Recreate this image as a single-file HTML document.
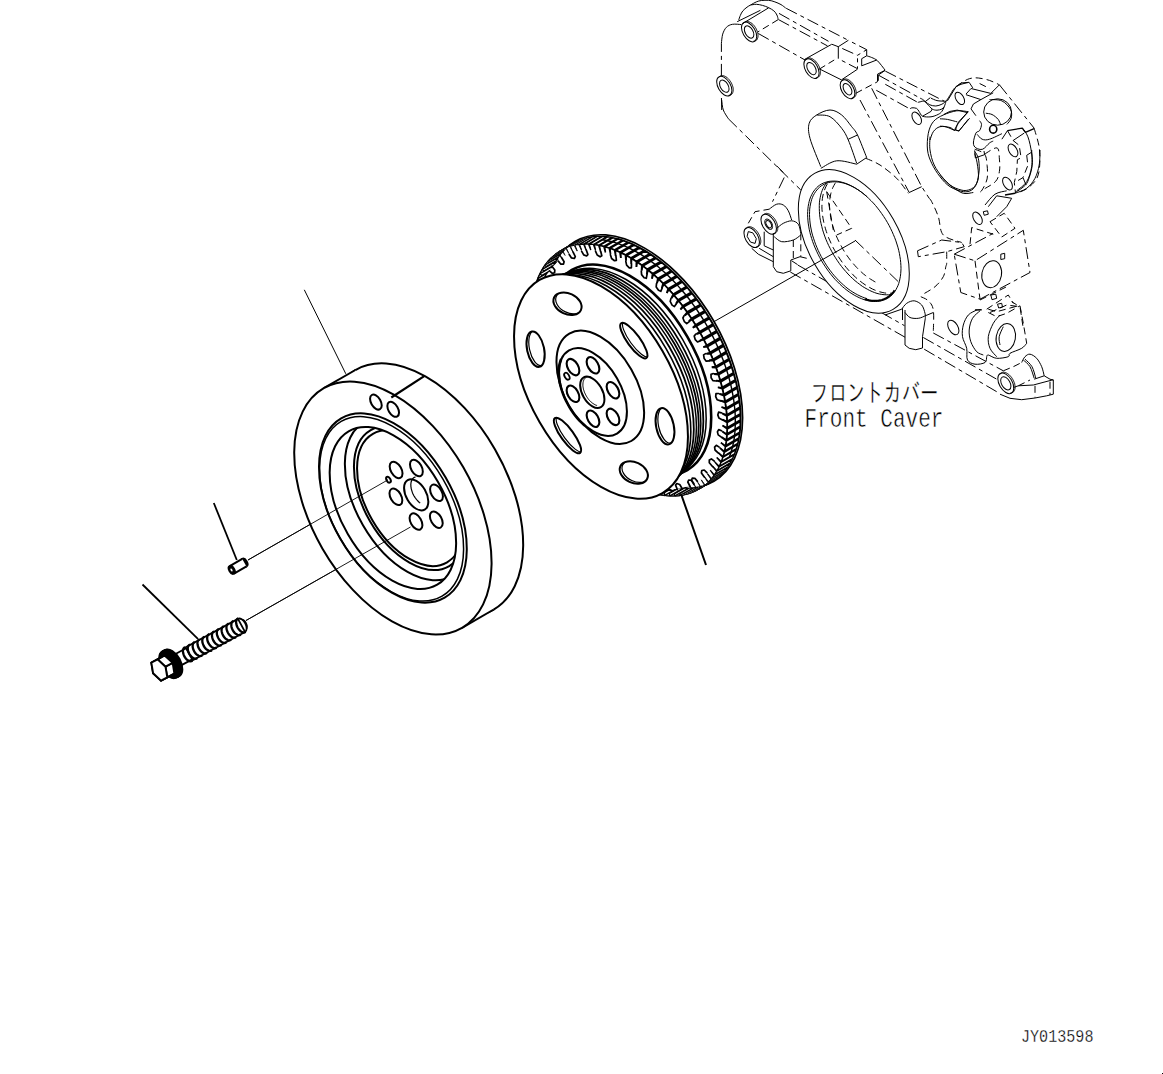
<!DOCTYPE html>
<html lang="ja"><head><meta charset="utf-8"><title>Front Cover</title>
<style>html,body{margin:0;padding:0;background:#fff;overflow:hidden}svg{display:block}text{font-family:"Liberation Mono","IPAGothic","Noto Sans CJK JP",monospace;fill:#000}</style></head><body>
<svg width="1163" height="1074" viewBox="0 0 1163 1074">
<rect width="1163" height="1074" fill="#fff"/>
<path d="M721.7,110.0 L721.4,96.0" fill="none" stroke="#000" stroke-width="1.0" stroke-linejoin="round" stroke-dasharray="12 4 4 4"/>
<path d="M721.4,75.9 L721.4,43.3" fill="none" stroke="#000" stroke-width="1.0" stroke-linejoin="round" stroke-dasharray="12 4 4 4"/>
<path d="M721.4,43.3 C721.6,41.8 721.9,36.7 722.7,34.1 C723.6,31.4 724.7,29.0 726.4,27.3 C728.0,25.7 730.0,24.7 732.5,24.3 C735.0,23.8 739.9,24.5 741.3,24.6" fill="none" stroke="#000" stroke-width="1.0" stroke-linejoin="round"/>
<path d="M738.7,20.1 C739.0,19.3 739.6,17.0 740.3,15.5 C741.0,13.9 741.7,12.2 742.9,10.8 C744.0,9.5 745.7,8.2 747.0,7.2 C748.3,6.2 749.1,5.8 750.6,5.0 C752.2,4.1 754.5,2.6 756.3,1.9 C758.1,1.1 759.4,0.8 761.4,0.5 C763.5,0.3 766.4,0.1 768.7,0.3 C770.9,0.5 772.8,1.1 774.9,1.9 C776.9,2.6 779.2,3.6 781.0,4.6 C782.9,5.7 784.9,7.5 785.7,8.0" fill="none" stroke="#000" stroke-width="1.0" stroke-linejoin="round"/>
<path d="M750.6,5.0 C751.5,4.9 754.3,4.3 756.3,4.3 C758.3,4.4 760.4,4.8 762.5,5.4 C764.5,5.9 766.8,6.8 768.7,7.7 C770.6,8.7 772.4,9.6 773.8,10.8 C775.2,12.0 776.2,13.5 776.9,15.0 C777.6,16.4 778.0,18.7 778.2,19.4" fill="none" stroke="#000" stroke-width="1.0" stroke-linejoin="round"/>
<path d="M737.2,21.7 L760.4,10.3" fill="none" stroke="#000" stroke-width="1.0" stroke-linejoin="round"/>
<path d="M742.7,23.5 L768.7,7.8" fill="none" stroke="#000" stroke-width="1.0" stroke-linejoin="round"/>
<path d="M778.2,19.6 L757.8,32.0" fill="none" stroke="#000" stroke-width="1.0" stroke-linejoin="round" stroke-dasharray="7 4"/>
<path d="M758.3,33.5 L804.8,59.9" fill="none" stroke="#000" stroke-width="1.0" stroke-linejoin="round" stroke-dasharray="12 4 4 4"/>
<path d="M786.2,8.3 L848.1,40.2" fill="none" stroke="#000" stroke-width="1.0" stroke-linejoin="round" stroke-dasharray="12 4 4 4"/>
<path d="M779.0,13.4 L828.5,41.3" fill="none" stroke="#000" stroke-width="1.0" stroke-linejoin="round" stroke-dasharray="12 4 4 4"/>
<path d="M778.5,19.6 L827.5,45.9" fill="none" stroke="#000" stroke-width="1.0" stroke-linejoin="round" stroke-dasharray="12 4 4 4"/>
<path d="M804.3,59.6 L825.9,47.5 L831.6,44.4" fill="none" stroke="#000" stroke-width="1.0" stroke-linejoin="round"/>
<ellipse cx="749.1" cy="32.0" rx="10.8" ry="6.2" transform="rotate(60.0 749.1 32.0)" fill="none" stroke="#000" stroke-width="1.0"/>
<path d="M753.6,41.1 L754.1,41.1 L754.6,41.0 L755.0,40.9 L755.4,40.8 L755.8,40.6 L756.2,40.4 L756.5,40.1 L756.8,39.8 L757.1,39.4 L757.3,39.0 L757.5,38.5 L757.7,38.0 L757.8,37.5 L757.9,37.0 L758.0,36.4 L758.0,35.8 L758.0,35.2 L758.0,34.6 L757.9,33.9 L757.8,33.2 L757.6,32.5 L757.4,31.9 L757.2,31.2 L756.9,30.5 L756.7,29.8 L756.3,29.1 L756.0,28.5 L755.6,27.8 L755.2,27.2 L754.8,26.6 L754.3,26.0 L753.9,25.4 L753.4,24.9 L752.9,24.3 L752.4,23.9 L751.9,23.4 L751.3,23.0 L750.8,22.7 L750.3,22.4 L749.7,22.1 L749.2,21.9 L748.7,21.7 L748.2,21.5 L747.7,21.4 L747.2,21.4 L746.7,21.4 L746.2,21.5 L745.8,21.6 L745.4,21.7 L745.0,21.9 L744.6,22.1 L744.3,22.4 L744.0,22.7 L743.7,23.1 L743.5,23.5" fill="none" stroke="#000" stroke-width="1.0"/>
<ellipse cx="749.1" cy="32.0" rx="6.7" ry="3.9" transform="rotate(60.0 749.1 32.0)" fill="none" stroke="#000" stroke-width="1.0"/>
<ellipse cx="724.3" cy="86.2" rx="10.8" ry="6.2" transform="rotate(60.0 724.3 86.2)" fill="none" stroke="#000" stroke-width="1.0"/>
<path d="M728.8,95.3 L729.3,95.3 L729.8,95.2 L730.2,95.1 L730.6,95.0 L731.0,94.8 L731.4,94.6 L731.7,94.3 L732.0,94.0 L732.3,93.6 L732.5,93.2 L732.7,92.7 L732.9,92.2 L733.0,91.7 L733.1,91.2 L733.2,90.6 L733.2,90.0 L733.2,89.4 L733.2,88.8 L733.1,88.1 L733.0,87.4 L732.8,86.7 L732.6,86.1 L732.4,85.4 L732.1,84.7 L731.9,84.0 L731.5,83.3 L731.2,82.7 L730.8,82.0 L730.4,81.4 L730.0,80.8 L729.5,80.2 L729.1,79.6 L728.6,79.1 L728.1,78.5 L727.6,78.1 L727.1,77.6 L726.5,77.2 L726.0,76.9 L725.5,76.6 L724.9,76.3 L724.4,76.1 L723.9,75.9 L723.4,75.7 L722.9,75.6 L722.4,75.6 L721.9,75.6 L721.4,75.7 L721.0,75.8 L720.6,75.9 L720.2,76.1 L719.8,76.3 L719.5,76.6 L719.2,76.9 L718.9,77.3 L718.7,77.7" fill="none" stroke="#000" stroke-width="1.0"/>
<ellipse cx="724.3" cy="86.2" rx="6.7" ry="3.9" transform="rotate(60.0 724.3 86.2)" fill="none" stroke="#000" stroke-width="1.0"/>
<ellipse cx="811.5" cy="68.6" rx="10.8" ry="6.2" transform="rotate(60.0 811.5 68.6)" fill="none" stroke="#000" stroke-width="1.0"/>
<path d="M816.0,77.7 L816.5,77.7 L817.0,77.6 L817.4,77.5 L817.8,77.4 L818.2,77.2 L818.6,77.0 L818.9,76.7 L819.2,76.4 L819.5,76.0 L819.7,75.6 L819.9,75.1 L820.1,74.6 L820.2,74.1 L820.3,73.6 L820.4,73.0 L820.4,72.4 L820.4,71.8 L820.4,71.2 L820.3,70.5 L820.2,69.8 L820.0,69.1 L819.8,68.5 L819.6,67.8 L819.3,67.1 L819.1,66.4 L818.7,65.7 L818.4,65.1 L818.0,64.4 L817.6,63.8 L817.2,63.2 L816.7,62.6 L816.3,62.0 L815.8,61.5 L815.3,60.9 L814.8,60.5 L814.3,60.0 L813.7,59.6 L813.2,59.3 L812.7,59.0 L812.1,58.7 L811.6,58.5 L811.1,58.3 L810.6,58.1 L810.1,58.0 L809.6,58.0 L809.1,58.0 L808.6,58.1 L808.2,58.2 L807.8,58.3 L807.4,58.5 L807.0,58.7 L806.7,59.0 L806.4,59.3 L806.1,59.7 L805.9,60.1" fill="none" stroke="#000" stroke-width="1.0"/>
<ellipse cx="811.5" cy="68.6" rx="6.7" ry="3.9" transform="rotate(60.0 811.5 68.6)" fill="none" stroke="#000" stroke-width="1.0"/>
<ellipse cx="847.5" cy="89.2" rx="10.4" ry="6.0" transform="rotate(60.0 847.5 89.2)" fill="none" stroke="#000" stroke-width="1.0"/>
<path d="M851.9,97.9 L852.4,97.9 L852.8,97.9 L853.2,97.8 L853.6,97.6 L854.0,97.5 L854.3,97.2 L854.7,97.0 L855.0,96.6 L855.2,96.3 L855.5,95.9 L855.7,95.5 L855.8,95.0 L856.0,94.5 L856.1,94.0 L856.1,93.4 L856.1,92.8 L856.1,92.2 L856.1,91.6 L856.0,91.0 L855.9,90.4 L855.7,89.7 L855.6,89.0 L855.3,88.4 L855.1,87.7 L854.8,87.1 L854.5,86.4 L854.2,85.8 L853.8,85.1 L853.4,84.5 L853.0,83.9 L852.6,83.4 L852.1,82.8 L851.7,82.3 L851.2,81.8 L850.7,81.3 L850.2,80.9 L849.7,80.5 L849.2,80.2 L848.7,79.9 L848.2,79.6 L847.6,79.4 L847.1,79.2 L846.6,79.1 L846.2,79.0 L845.7,79.0 L845.2,79.0 L844.8,79.0 L844.4,79.1 L844.0,79.3 L843.6,79.4 L843.2,79.7 L842.9,79.9 L842.6,80.3 L842.4,80.6 L842.1,81.0" fill="none" stroke="#000" stroke-width="1.0"/>
<ellipse cx="847.5" cy="89.2" rx="6.3" ry="3.6" transform="rotate(60.0 847.5 89.2)" fill="none" stroke="#000" stroke-width="1.0"/>
<path d="M721.7,100.0 C721.9,101.7 722.2,106.9 723.3,110.0 C724.4,113.1 727.5,117.2 728.3,118.7" fill="none" stroke="#000" stroke-width="1.0" stroke-linejoin="round"/>
<path d="M728.3,118.7 L800.8,190.0" fill="none" stroke="#000" stroke-width="1.0" stroke-linejoin="round" stroke-dasharray="12 4 4 4"/>
<path d="M776.7,165.8 L783.3,172.5" fill="none" stroke="#000" stroke-width="1.0" stroke-linejoin="round"/>
<path d="M819.2,69.2 L834.2,60.0" fill="none" stroke="#000" stroke-width="1.0" stroke-linejoin="round" stroke-dasharray="7 4"/>
<path d="M820.0,69.2 L841.7,80.0" fill="none" stroke="#000" stroke-width="1.0" stroke-linejoin="round"/>
<path d="M831.7,44.2 L838.3,46.7" fill="none" stroke="#000" stroke-width="1.0" stroke-linejoin="round"/>
<path d="M838.3,46.7 L848.3,40.3 L866.7,49.7 L857.5,55.3 L838.3,46.7" fill="none" stroke="#000" stroke-width="1.0" stroke-linejoin="round" stroke-dasharray="12 4 4 4"/>
<path d="M838.3,46.7 L838.3,58.7 L857.5,68.7 L857.5,55.3" fill="none" stroke="#000" stroke-width="1.0" stroke-linejoin="round" stroke-dasharray="12 4 4 4"/>
<path d="M866.7,49.7 L866.7,55.8 L861.7,58.7 L861.7,65.8" fill="none" stroke="#000" stroke-width="1.0" stroke-linejoin="round"/>
<path d="M866.7,55.8 C867.5,56.1 869.9,56.7 871.7,57.5 C873.5,58.3 875.3,58.8 877.5,60.8 C879.7,62.9 883.8,68.5 885.0,70.0" fill="none" stroke="#000" stroke-width="1.0" stroke-linejoin="round"/>
<path d="M861.7,65.8 L876.7,60.0" fill="none" stroke="#000" stroke-width="1.0" stroke-linejoin="round"/>
<path d="M841.7,79.7 L857.5,69.2" fill="none" stroke="#000" stroke-width="1.0" stroke-linejoin="round"/>
<path d="M855.8,93.3 L877.5,81.7" fill="none" stroke="#000" stroke-width="1.0" stroke-linejoin="round" stroke-dasharray="7 4"/>
<path d="M877.5,81.7 L877.5,74.2 L885.0,70.3" fill="none" stroke="#000" stroke-width="1.0" stroke-linejoin="round"/>
<path d="M820.8,166.7 C819.0,161.9 811.9,145.6 810.0,138.3 C808.1,131.1 808.1,127.2 809.2,123.3 C810.3,119.4 813.2,117.2 816.7,115.0 C820.1,112.8 825.8,110.0 830.0,110.0 C834.2,110.0 838.1,112.2 841.7,115.0 C845.3,117.8 849.0,123.3 851.7,126.7 C854.3,130.0 855.0,129.9 857.5,135.0 C860.0,140.1 865.1,153.8 866.7,157.5" fill="none" stroke="#000" stroke-width="1.0" stroke-linejoin="round"/>
<path d="M816.7,115.0 C818.9,115.3 825.8,114.4 830.0,116.7 C834.2,118.9 838.6,124.4 841.7,128.3 C844.7,132.2 845.8,134.2 848.3,140.0 C850.8,145.8 855.3,159.4 856.7,163.3" fill="none" stroke="#000" stroke-width="1.0" stroke-linejoin="round"/>
<path d="M848.3,139.2 L857.5,135.0" fill="none" stroke="#000" stroke-width="1.0" stroke-linejoin="round"/>
<path d="M866.7,157.5 L856.7,164.2" fill="none" stroke="#000" stroke-width="1.0" stroke-linejoin="round"/>
<path d="M820.8,168.3 C823.5,167.1 830.7,161.5 836.7,160.8 C842.6,160.1 853.3,163.6 856.7,164.2" fill="none" stroke="#000" stroke-width="1.0" stroke-linejoin="round"/>
<path d="M885.3,71.1 L944.3,101.2 L946.1,101.2" fill="none" stroke="#000" stroke-width="1.0" stroke-linejoin="round" stroke-dasharray="12 4 4 4"/>
<path d="M946.1,101.2 C946.7,100.3 948.5,97.7 949.7,95.7 C950.9,93.8 952.2,91.2 953.3,89.7 C954.4,88.2 955.0,87.6 956.3,86.7 C957.6,85.8 959.1,85.0 961.1,84.3 C963.1,83.6 967.1,82.8 968.3,82.5" fill="none" stroke="#000" stroke-width="1.0" stroke-linejoin="round"/>
<path d="M878.7,75.3 L920.2,98.2" fill="none" stroke="#000" stroke-width="1.0" stroke-linejoin="round" stroke-dasharray="12 4 4 4"/>
<path d="M920.2,98.2 C920.6,98.4 921.7,98.8 922.6,99.4 C923.5,100.0 924.4,100.9 925.6,101.8 C926.8,102.7 928.1,104.1 929.8,104.8 C931.5,105.5 933.8,106.1 935.8,106.0 C937.8,105.9 940.2,105.0 941.9,104.2 C943.6,103.4 945.4,101.7 946.1,101.2" fill="none" stroke="#000" stroke-width="1.0" stroke-linejoin="round"/>
<path d="M885.3,84.3 L917.8,102.4" fill="none" stroke="#000" stroke-width="1.0" stroke-linejoin="round" stroke-dasharray="12 4 4 4"/>
<path d="M917.8,102.4 C918.2,102.3 919.2,102.0 920.2,101.8 C921.2,101.6 922.6,100.8 923.8,101.2 C925.0,101.6 926.0,102.9 927.4,104.2 C928.8,105.5 930.6,108.0 932.2,109.0 C933.8,110.0 935.4,110.2 937.0,110.2 C938.6,110.2 940.7,109.6 941.9,109.0 C943.1,108.4 943.9,107.0 944.3,106.6" fill="none" stroke="#000" stroke-width="1.0" stroke-linejoin="round"/>
<path d="M876.3,90.3 L910.0,109.0" fill="none" stroke="#000" stroke-width="1.0" stroke-linejoin="round" stroke-dasharray="12 4 4 4"/>
<path d="M910.0,109.0 C910.3,108.8 910.7,107.9 911.8,107.8 C912.9,107.7 915.4,107.8 916.6,108.4 C917.8,109.0 918.0,110.1 919.0,111.4 C920.0,112.7 920.6,115.3 922.6,116.2 C924.6,117.1 928.4,117.1 931.0,116.8 C933.6,116.5 936.4,115.3 938.2,114.4 C940.1,113.5 940.9,112.7 941.9,111.4 C942.9,110.1 943.6,108.3 944.3,106.6 C945.0,104.9 945.8,102.1 946.1,101.2" fill="none" stroke="#000" stroke-width="1.0" stroke-linejoin="round"/>
<path d="M931.0,98.2 C932.0,98.6 934.8,100.1 937.0,100.6 C939.3,101.1 943.1,101.1 944.3,101.2" fill="none" stroke="#000" stroke-width="1.0" stroke-linejoin="round"/>
<path d="M922.6,116.2 L931.0,111.4 L932.2,109.0" fill="none" stroke="#000" stroke-width="1.0" stroke-linejoin="round"/>
<path d="M925.0,101.8 L930.4,97.6" fill="none" stroke="#000" stroke-width="1.0" stroke-linejoin="round"/>
<path d="M878.3,80.8 L878.3,75.0 L885.0,70.5" fill="none" stroke="#000" stroke-width="1.0" stroke-linejoin="round"/>
<ellipse cx="916.7" cy="118.3" rx="6.8" ry="3.9" transform="rotate(60.0 916.7 118.3)" fill="none" stroke="#000" stroke-width="1.0"/>
<path d="M860.0,100.0 L909.2,192.5" fill="none" stroke="#000" stroke-width="1.0" stroke-linejoin="round" stroke-dasharray="12 4 4 4"/>
<path d="M871.7,88.3 L921.7,186.7 L929.2,198.3" fill="none" stroke="#000" stroke-width="1.0" stroke-linejoin="round" stroke-dasharray="12 4 4 4"/>
<path d="M909.2,192.5 L921.7,186.7" fill="none" stroke="#000" stroke-width="1.0" stroke-linejoin="round"/>
<path d="M865.8,158.3 C868.2,159.4 874.9,161.7 880.0,165.0 C885.1,168.3 891.9,173.6 896.7,178.3 C901.4,183.1 906.4,190.8 908.3,193.3" fill="none" stroke="#000" stroke-width="1.0" stroke-linejoin="round" stroke-dasharray="7 4"/>
<path d="M968.3,111.7 C966.4,111.5 960.8,110.3 956.7,110.8 C952.5,111.4 947.2,113.2 943.3,115.0 C939.4,116.8 935.8,118.6 933.3,121.7 C930.8,124.7 929.3,128.6 928.3,133.3 C927.4,138.1 926.9,145.0 927.5,150.0 C928.1,155.0 929.6,158.9 931.7,163.3 C933.8,167.8 936.9,172.8 940.0,176.7 C943.1,180.6 946.1,184.2 950.0,186.7 C953.9,189.2 959.7,191.1 963.3,191.7 C966.9,192.2 969.4,191.4 971.7,190.0 C973.9,188.6 975.4,186.7 976.7,183.3 C977.9,180.0 978.9,174.2 979.2,170.0 C979.4,165.8 979.0,161.4 978.3,158.3 C977.6,155.3 975.6,152.8 975.0,151.7" fill="none" stroke="#000" stroke-width="1.0" stroke-linejoin="round"/>
<path d="M930.0,136.7 C930.0,138.9 929.3,145.3 930.0,150.0 C930.7,154.7 931.9,160.3 934.2,165.0 C936.4,169.7 940.1,174.6 943.3,178.3 C946.5,182.1 950.0,185.0 953.3,187.5 C956.7,190.0 960.0,192.5 963.3,193.3 C966.7,194.2 971.7,192.6 973.3,192.5" fill="none" stroke="#000" stroke-width="1.0" stroke-linejoin="round"/>
<path d="M968.3,111.7 C966.7,113.6 960.6,120.3 958.3,123.3 C956.1,126.4 956.4,129.3 955.0,130.0 C953.6,130.7 952.5,128.1 950.0,127.5 C947.5,126.9 942.8,126.0 940.0,126.7 C937.2,127.4 935.0,129.4 933.3,131.7 C931.7,133.9 930.6,138.6 930.0,140.0" fill="none" stroke="#000" stroke-width="1.0" stroke-linejoin="round"/>
<path d="M955.0,130.0 L959.2,130.8 L968.3,119.2" fill="none" stroke="#000" stroke-width="1.0" stroke-linejoin="round"/>
<path d="M956.1,86.6 C957.1,85.9 960.0,83.6 962.3,82.3 C964.6,80.9 967.0,79.3 969.7,78.6 C972.4,77.9 975.1,77.6 978.4,78.0 C981.7,78.3 986.0,79.3 989.5,80.4 C993.0,81.6 997.8,84.0 999.4,84.8" fill="none" stroke="#000" stroke-width="1.0" stroke-linejoin="round" stroke-dasharray="7 4"/>
<path d="M999.4,84.8 L1034.1,128.1" fill="none" stroke="#000" stroke-width="1.0" stroke-linejoin="round" stroke-dasharray="12 4 4 4"/>
<path d="M1034.1,128.1 C1034.9,131.2 1038.1,140.5 1039.1,146.7 C1040.0,152.9 1040.1,159.9 1039.7,165.3 C1039.3,170.6 1038.7,174.9 1036.6,178.9 C1034.4,182.8 1030.0,186.4 1026.7,188.8 C1023.4,191.1 1018.4,192.3 1016.8,193.0" fill="none" stroke="#000" stroke-width="1.0" stroke-linejoin="round" stroke-dasharray="7 4"/>
<ellipse cx="959.8" cy="98.4" rx="6.8" ry="3.9" transform="rotate(60.0 959.8 98.4)" fill="none" stroke="#000" stroke-width="1.0"/>
<path d="M966.0,94.1 L971.0,88.5 L990.8,93.4 L999.4,84.8" fill="none" stroke="#000" stroke-width="1.0" stroke-linejoin="round"/>
<path d="M966.0,94.7 L980.9,99.6 L993.2,92.8" fill="none" stroke="#000" stroke-width="1.0" stroke-linejoin="round"/>
<path d="M956.1,86.6 L961.7,82.9 L969.1,82.3 L972.8,87.9" fill="none" stroke="#000" stroke-width="1.0" stroke-linejoin="round"/>
<path d="M979.6,83.5 L989.5,88.5" fill="none" stroke="#000" stroke-width="1.0" stroke-linejoin="round" stroke-dasharray="7 4"/>
<path d="M947.4,100.9 L956.1,86.6" fill="none" stroke="#000" stroke-width="1.0" stroke-linejoin="round"/>
<path d="M971.0,108.9 L973.4,104.0 L980.9,99.6" fill="none" stroke="#000" stroke-width="1.0" stroke-linejoin="round"/>
<path d="M971.0,108.9 L975.9,115.7" fill="none" stroke="#000" stroke-width="1.0" stroke-linejoin="round"/>
<path d="M979.6,120.7 C979.9,121.3 981.5,122.7 981.5,124.4 C981.5,126.0 980.6,129.1 979.6,130.6 C978.7,132.0 976.9,131.0 975.9,133.1 C974.9,135.1 973.4,140.5 973.4,143.0 C973.4,145.4 974.4,146.9 975.9,147.9 C977.5,148.9 980.4,150.0 982.7,149.2 C985.0,148.3 987.8,144.3 989.5,143.0 C991.3,141.6 992.6,141.4 993.2,141.1" fill="none" stroke="#000" stroke-width="1.0" stroke-linejoin="round"/>
<path d="M977.1,134.3 C978.0,135.1 980.0,138.4 982.1,139.2 C984.2,140.1 986.2,140.2 989.5,139.2 C992.8,138.3 999.8,134.6 1001.9,133.7" fill="none" stroke="#000" stroke-width="1.0" stroke-linejoin="round"/>
<path d="M974.7,150.4 L975.3,157.8 L984.6,154.7 L984.0,151.0" fill="none" stroke="#000" stroke-width="1.0" stroke-linejoin="round"/>
<ellipse cx="997.6" cy="112.0" rx="13.9" ry="13.2" transform="rotate(0.0 997.6 112.0)" fill="none" stroke="#000" stroke-width="1.0"/>
<path d="M989.5,99.6 C991.6,99.8 998.4,99.2 1001.9,100.9 C1005.4,102.5 1009.0,106.6 1010.6,109.5 C1012.1,112.4 1011.8,115.7 1011.2,118.2 C1010.6,120.7 1007.6,123.4 1006.9,124.4" fill="none" stroke="#000" stroke-width="1.0"/>
<path d="M985.8,113.2 C986.8,113.5 989.9,113.5 992.0,114.5 C994.1,115.5 996.8,117.7 998.2,119.4 C999.6,121.2 1000.3,124.1 1000.7,125.0" fill="none" stroke="#000" stroke-width="1.0" stroke-linejoin="round"/>
<ellipse cx="993.2" cy="129.2" rx="3.6" ry="3.9" transform="rotate(0.0 993.2 129.2)" fill="none" stroke="#000" stroke-width="1.6"/>
<path d="M943.7,114.5 L949.9,111.4 L957.3,110.1 L967.2,112.6 L958.6,121.9 L954.9,129.3 L958.6,131.2 L969.7,118.2" fill="none" stroke="#000" stroke-width="1.0" stroke-linejoin="round"/>
<path d="M940.0,118.8 C941.2,118.9 944.5,118.9 947.4,119.4 C950.3,120.0 955.7,121.5 957.3,121.9" fill="none" stroke="#000" stroke-width="1.0" stroke-linejoin="round"/>
<path d="M940.0,126.2 C941.0,126.3 943.7,126.1 946.2,126.9 C948.7,127.6 953.4,130.0 954.9,130.6" fill="none" stroke="#000" stroke-width="1.0" stroke-linejoin="round"/>
<path d="M1007.5,130.6 L1022.3,128.1 L1025.4,132.4 L1034.1,128.7" fill="none" stroke="#000" stroke-width="1.3" stroke-linejoin="round"/>
<path d="M1007.5,130.6 L1001.9,139.2" fill="none" stroke="#000" stroke-width="1.0" stroke-linejoin="round"/>
<path d="M1007.5,130.6 L1013.1,140.5 L1019.2,145.4 L1021.1,157.8 L1017.4,159.7 L1016.8,171.4 L1014.3,182.6 L1015.5,193.0" fill="none" stroke="#000" stroke-width="1.0" stroke-linejoin="round" stroke-dasharray="7 4"/>
<path d="M1013.1,140.5 L1024.2,133.1" fill="none" stroke="#000" stroke-width="1.0" stroke-linejoin="round"/>
<path d="M1022.3,128.1 C1023.3,129.5 1026.4,132.6 1027.9,136.8 C1029.5,140.9 1030.9,148.1 1031.6,152.9 C1032.4,157.6 1032.7,161.1 1032.2,165.3 C1031.8,169.4 1030.3,174.3 1029.2,177.6 C1028.0,180.9 1027.7,182.6 1025.4,185.1 C1023.2,187.5 1017.2,191.3 1015.5,192.5" fill="none" stroke="#000" stroke-width="1.0" stroke-linejoin="round"/>
<path d="M1026.7,155.3 L1031.6,152.2" fill="none" stroke="#000" stroke-width="1.0" stroke-linejoin="round"/>
<path d="M1026.7,155.3 L1027.9,165.3 L1023.0,177.6 L1015.5,182.0" fill="none" stroke="#000" stroke-width="1.0" stroke-linejoin="round" stroke-dasharray="7 4"/>
<path d="M1023.0,177.6 L1026.1,185.1" fill="none" stroke="#000" stroke-width="1.0" stroke-linejoin="round"/>
<ellipse cx="1013.0" cy="150.4" rx="7.0" ry="4.0" transform="rotate(60.0 1013.0 150.4)" fill="none" stroke="#000" stroke-width="1.0"/>
<ellipse cx="1007.5" cy="183.6" rx="7.0" ry="4.0" transform="rotate(60.0 1007.5 183.6)" fill="none" stroke="#000" stroke-width="1.0"/>
<path d="M974.7,153.5 C975.1,155.0 976.5,158.7 977.1,162.8 C977.8,166.8 978.8,173.7 978.4,177.6 C978.0,181.6 976.3,184.2 974.7,186.3 C973.0,188.4 970.7,189.4 968.5,190.0 C966.2,190.6 964.1,190.8 961.1,190.0 C958.0,189.2 953.4,187.5 949.9,185.1 C946.4,182.6 941.7,176.8 940.0,175.2" fill="none" stroke="#000" stroke-width="1.0" stroke-linejoin="round"/>
<path d="M974.7,149.2 C976.3,150.0 982.5,151.4 984.6,154.1 C986.6,156.8 986.6,161.1 987.1,165.3 C987.5,169.4 987.9,174.7 987.1,178.9 C986.2,183.0 983.5,187.7 982.1,190.0 C980.7,192.4 979.0,192.5 978.4,193.0" fill="none" stroke="#000" stroke-width="1.0" stroke-linejoin="round" stroke-dasharray="7 4"/>
<path d="M984.6,154.1 C986.6,153.1 994.5,147.1 997.0,147.9 C999.4,148.7 999.0,155.1 999.4,159.1 C999.8,163.0 1000.1,167.7 999.4,171.4 C998.8,175.2 998.2,178.5 995.7,181.3 C993.2,184.2 986.4,187.5 984.6,188.8" fill="none" stroke="#000" stroke-width="1.0" stroke-linejoin="round" stroke-dasharray="7 4"/>
<path d="M790.3,272.0 L905.2,337.3" fill="none" stroke="#000" stroke-width="1.0" stroke-linejoin="round" stroke-dasharray="12 4 4 4"/>
<path d="M797.9,265.1 L904.5,325.7" fill="none" stroke="#000" stroke-width="1.0" stroke-linejoin="round" stroke-dasharray="12 4 4 4"/>
<ellipse cx="853.8" cy="241.4" rx="78.5" ry="45.3" transform="rotate(60.0 853.8 241.4)" fill="#fff" stroke="#000" stroke-width="1.0"/>
<clipPath id="cclip"><ellipse cx="854.3" cy="241.3" rx="66.0" ry="38.1" transform="rotate(60.0 854.3 241.3)" /></clipPath>
<g clip-path="url(#cclip)">
<path d="M853.8,175.6 L851.5,175.0 L849.1,174.6 L846.8,174.4 L844.6,174.4 L842.5,174.5 L840.4,174.8 L838.3,175.2 L836.4,175.8 L834.5,176.6 L832.7,177.5 L831.0,178.6 L829.5,179.9 L828.0,181.3 L826.6,182.9 L825.3,184.6 L824.2,186.4 L823.1,188.4 L822.2,190.5 L821.4,192.7 L820.7,195.1 L820.2,197.6 L819.7,200.1 L819.4,202.8 L819.3,205.5 L819.3,208.4 L819.4,211.3 L819.6,214.2 L819.9,217.3 L820.4,220.3 L821.0,223.4 L821.8,226.6 L822.6,229.8 L823.6,232.9 L824.7,236.1 L825.9,239.3 L827.3,242.5 L828.7,245.6 L830.3,248.7 L831.9,251.8 L833.6,254.8 L835.5,257.8 L837.4,260.7 L839.4,263.6 L841.4,266.3 L843.6,269.0 L845.8,271.5 L848.0,274.0 L850.3,276.4 L852.7,278.6 L855.0,280.7 L857.5,282.7 L859.9,284.5 L862.3,286.3 L864.8,287.8 L867.3,289.2 L869.7,290.5 L872.2,291.6 L874.6,292.6 L877.0,293.4 L879.4,294.0 L881.8,294.4 L884.1,294.7 L886.3,294.8 L888.5,294.8 L890.6,294.6 L892.7,294.2" fill="none" stroke="#000" stroke-width="1.0"/>
<path d="M856.5,174.0 L854.1,173.5 L851.8,173.1 L849.5,172.9 L847.3,172.8 L845.1,172.9 L843.0,173.2 L841.0,173.7 L839.1,174.3 L837.2,175.1 L835.4,176.0 L833.7,177.1 L832.1,178.4 L830.6,179.8 L829.3,181.3 L828.0,183.0 L826.8,184.9 L825.8,186.9 L824.9,189.0 L824.1,191.2 L823.4,193.5 L822.8,196.0 L822.4,198.6 L822.1,201.2 L822.0,204.0 L821.9,206.8 L822.0,209.7 L822.3,212.7 L822.6,215.7 L823.1,218.8 L823.7,221.9 L824.5,225.0 L825.3,228.2 L826.3,231.4 L827.4,234.6 L828.6,237.8 L830.0,240.9 L831.4,244.1 L832.9,247.2 L834.6,250.3 L836.3,253.3 L838.1,256.3 L840.1,259.2 L842.0,262.0 L844.1,264.8 L846.2,267.4 L848.4,270.0 L850.7,272.5 L853.0,274.8 L855.3,277.0 L857.7,279.2 L860.1,281.1 L862.6,283.0 L865.0,284.7 L867.5,286.3 L870.0,287.7 L872.4,289.0 L874.9,290.1 L877.3,291.0 L879.7,291.8 L882.1,292.4 L884.4,292.9 L886.7,293.2 L889.0,293.3 L891.2,293.2 L893.3,293.0 L895.4,292.6" fill="none" stroke="#000" stroke-width="1.0" stroke-dasharray="7 4"/>
<path d="M854.8,173.7 L852.8,173.7 L850.7,173.9 L848.8,174.2 L846.9,174.7 L845.1,175.3 L843.4,176.0 L841.7,177.0 L840.2,178.0 L838.7,179.3 L837.4,180.6 L836.1,182.1 L834.9,183.7 L833.9,185.5 L832.9,187.4 L832.1,189.4 L831.4,191.5 L830.8,193.7 L830.3,196.1 L829.9,198.5 L829.7,201.0 L829.5,203.6 L829.5,206.2 L829.7,209.0 L829.9,211.8 L830.3,214.6 L830.7,217.5 L831.3,220.4 L832.1,223.4 L832.9,226.3 L833.8,229.3 L834.9,232.3 L836.0,235.3 L837.3,238.2 L838.7,241.2 L840.1,244.1 L841.7,246.9 L843.3,249.8 L845.0,252.5 L846.8,255.3 L848.7,257.9 L850.6,260.5 L852.6,262.9 L854.7,265.3 L856.8,267.6 L859.0,269.8 L861.2,271.9 L863.4,273.9 L865.7,275.7 L868.0,277.4 L870.3,279.0 L872.6,280.4 L874.9,281.8 L877.2,282.9" fill="none" stroke="#000" stroke-width="1.0" stroke-dasharray="7 4"/>
</g>
<path d="M887.3,298.5 L889.0,297.4 L890.6,296.2 L892.1,294.8 L893.4,293.2 L894.7,291.6 L895.9,289.8 L896.9,287.8 L897.9,285.8 L898.7,283.6 L899.4,281.3 L899.9,278.9 L900.4,276.3 L900.7,273.7 L900.9,271.0 L901.0,268.3 L900.9,265.4 L900.7,262.5 L900.4,259.5 L899.9,256.5 L899.4,253.4 L898.7,250.3 L897.9,247.2 L896.9,244.0 L895.9,240.9 L894.7,237.7 L893.4,234.6 L892.0,231.4 L890.5,228.3 L889.0,225.3 L887.3,222.3 L885.5,219.3 L883.6,216.4 L881.7,213.6 L879.7,210.8 L877.6,208.1 L875.5,205.5 L873.3,203.0 L871.0,200.7 L868.7,198.4 L866.4,196.2 L864.0,194.2 L861.6,192.3 L859.2,190.5 L856.7,188.9 L854.3,187.4 L851.8,186.1 L849.4,184.9 L847.0,183.9 L844.6,183.0 L842.2,182.3 L839.9,181.7 L837.6,181.3 L835.3,181.1 L833.1,181.1 L831.0,181.2 L828.9,181.4 L826.9,181.9 L824.9,182.5 L823.1,183.2 L821.3,184.1 L819.6,185.2 L818.0,186.4 L816.5,187.8 L815.2,189.4 L813.9,191.0 L812.7,192.8 L811.7,194.8 L810.7,196.8 L809.9,199.0 L809.2,201.3 L808.7,203.7 L808.2,206.3 L807.9,208.9 L807.7,211.6 L807.6,214.3 L807.7,217.2 L807.9,220.1 L808.2,223.1 L808.7,226.1 L809.2,229.2 L809.9,232.3 L810.7,235.4 L811.7,238.6 L812.7,241.7 L813.9,244.9 L815.2,248.0 L816.6,251.2 L818.1,254.3 L819.6,257.3 L821.3,260.3 L823.1,263.3 L825.0,266.2 L826.9,269.0 L828.9,271.8 L831.0,274.5 L833.1,277.1 L835.3,279.6 L837.6,281.9 L839.9,284.2 L842.2,286.4 L844.6,288.4 L847.0,290.3 L849.4,292.1 L851.9,293.7 L854.3,295.2 L856.8,296.5 L859.2,297.7 L861.6,298.7 L864.0,299.6 L866.4,300.3 L868.7,300.9 L871.0,301.3 L873.3,301.5 L875.5,301.5 L877.6,301.4 L879.7,301.2 L881.7,300.7 L883.7,300.1 L885.5,299.4 L887.3,298.5" fill="none" stroke="#000" stroke-width="1.0"/>
<path d="M864.7,299.2 L867.0,299.8 L869.3,300.3 L871.6,300.6 L873.8,300.8 L876.0,300.8 L878.0,300.6 L880.1,300.3 L882.0,299.8 L883.9,299.2 L885.7,298.4 L887.5,297.4 L889.1,296.3 L890.6,295.1 L892.1,293.6 L893.4,292.1 L894.6,290.4" fill="none" stroke="#000" stroke-width="1.9"/>
<path d="M867.0,196.7 L864.6,194.7 L862.3,192.8 L859.9,191.1 L857.5,189.5 L855.2,188.1 L852.8,186.8 L850.4,185.6 L848.0,184.6 L845.7,183.7 L843.3,183.0 L841.0,182.5 L838.8,182.1 L836.6,181.9 L834.4,181.8 L832.3,181.9 L830.3,182.2 L828.3,182.6 L826.4,183.2 L824.6,184.0 L822.9,184.9 L821.2,185.9 L819.7,187.1 L818.2,188.5 L816.9,190.0 L815.6,191.6 L814.5,193.4 L813.4,195.2 L812.5,197.3 L811.7,199.4 L811.1,201.7 L810.5,204.0 L810.1,206.5 L809.7,209.1 L809.6,211.7 L809.5,214.4 L809.6,217.2 L809.8,220.1 L810.1,223.0 L810.5,226.0 L811.1,229.0 L811.7,232.0 L812.5,235.1 L813.5,238.2 L814.5,241.2 L815.6,244.3 L816.9,247.4 L818.2,250.5 L819.7,253.5 L821.2,256.5 L822.9,259.4 L824.6,262.3 L826.4,265.2 L828.3,268.0 L830.3,270.7 L832.3,273.3 L834.4,275.8 L836.6,278.2 L838.8,280.6 L841.1,282.8 L843.4,284.9 L845.7,286.9 L848.0,288.8 L850.4,290.5 L852.8,292.1 L855.2,293.5 L857.6,294.8 L860.0,296.0 L862.3,297.0 L864.7,297.9 L867.0,298.6" fill="none" stroke="#000" stroke-width="1.0"/>
<path d="M826.7,191.7 L851.7,228.3 L836.7,235.0" fill="none" stroke="#000" stroke-width="1.0" stroke-linejoin="round" stroke-dasharray="7 4"/>
<path d="M855.0,240.0 L898.3,281.7" fill="none" stroke="#000" stroke-width="1.0" stroke-linejoin="round" stroke-dasharray="12 4 4 4"/>
<path d="M826.7,191.7 L833.3,230.0" fill="none" stroke="#000" stroke-width="1.0" stroke-linejoin="round" stroke-dasharray="7 4"/>
<path d="M784.2,177.5 L772.5,201.7" fill="none" stroke="#000" stroke-width="1.0" stroke-linejoin="round" stroke-dasharray="12 4 4 4"/>
<ellipse cx="768.7" cy="224.2" rx="11.0" ry="6.3" transform="rotate(60.0 768.7 224.2)" fill="none" stroke="#000" stroke-width="1.0"/>
<path d="M773.3,233.5 L773.8,233.5 L774.2,233.4 L774.7,233.3 L775.1,233.2 L775.5,233.0 L775.9,232.7 L776.2,232.4 L776.5,232.1 L776.8,231.7 L777.0,231.3 L777.3,230.9 L777.4,230.4 L777.6,229.8 L777.7,229.3 L777.7,228.7 L777.8,228.1 L777.8,227.5 L777.7,226.8 L777.6,226.1 L777.5,225.5 L777.4,224.8 L777.2,224.1 L776.9,223.4 L776.7,222.7 L776.4,222.0 L776.0,221.3 L775.7,220.6 L775.3,219.9 L774.9,219.3 L774.5,218.7 L774.0,218.1 L773.5,217.5 L773.0,216.9 L772.5,216.4 L772.0,215.9 L771.5,215.5 L770.9,215.1 L770.4,214.7 L769.9,214.4 L769.3,214.1 L768.8,213.9 L768.2,213.7 L767.7,213.5 L767.2,213.5 L766.7,213.4 L766.2,213.4 L765.8,213.5 L765.3,213.6 L764.9,213.7 L764.5,213.9 L764.1,214.2 L763.8,214.5 L763.5,214.8 L763.2,215.2 L763.0,215.6" fill="none" stroke="#000" stroke-width="1.0"/>
<ellipse cx="768.7" cy="224.2" rx="5.6" ry="3.2" transform="rotate(60.0 768.7 224.2)" fill="none" stroke="#000" stroke-width="1.0"/>
<ellipse cx="768.7" cy="224.2" rx="4.0" ry="2.3" transform="rotate(60.0 768.7 224.2)" fill="none" stroke="#000" stroke-width="1.0"/>
<ellipse cx="751.7" cy="237.5" rx="11.0" ry="6.3" transform="rotate(60.0 751.7 237.5)" fill="none" stroke="#000" stroke-width="1.0"/>
<path d="M756.3,246.8 L756.8,246.8 L757.2,246.7 L757.7,246.6 L758.1,246.5 L758.5,246.3 L758.9,246.0 L759.2,245.7 L759.5,245.4 L759.8,245.0 L760.0,244.6 L760.3,244.2 L760.4,243.7 L760.6,243.1 L760.7,242.6 L760.7,242.0 L760.8,241.4 L760.8,240.8 L760.7,240.1 L760.6,239.4 L760.5,238.8 L760.4,238.1 L760.2,237.4 L759.9,236.7 L759.7,236.0 L759.4,235.3 L759.0,234.6 L758.7,233.9 L758.3,233.2 L757.9,232.6 L757.5,232.0 L757.0,231.4 L756.5,230.8 L756.0,230.2 L755.5,229.7 L755.0,229.2 L754.5,228.8 L753.9,228.4 L753.4,228.0 L752.9,227.7 L752.3,227.4 L751.8,227.2 L751.2,227.0 L750.7,226.8 L750.2,226.8 L749.7,226.7 L749.2,226.7 L748.8,226.8 L748.3,226.9 L747.9,227.0 L747.5,227.2 L747.1,227.5 L746.8,227.8 L746.5,228.1 L746.2,228.5 L746.0,228.9" fill="none" stroke="#000" stroke-width="1.0"/>
<path d="M755.1,243.4 L756.3,238.7 L752.9,232.9 L748.3,231.6 L747.1,236.3 L750.5,242.1Z" fill="none" stroke="#000" stroke-width="1.0" stroke-linejoin="round"/>
<path d="M769.2,209.2 C770.4,208.3 774.3,204.9 776.7,204.2 C779.0,203.5 781.4,203.9 783.3,205.0 C785.3,206.1 786.9,208.3 788.3,210.8 C789.7,213.3 791.1,218.5 791.7,220.0" fill="none" stroke="#000" stroke-width="1.0" stroke-linejoin="round"/>
<path d="M776.7,228.3 C777.8,227.5 780.8,224.6 783.3,223.3 C785.8,222.1 789.2,220.7 791.7,220.8 C794.2,221.0 796.8,222.1 798.3,224.2 C799.9,226.3 800.4,231.8 800.8,233.3" fill="none" stroke="#000" stroke-width="1.0" stroke-linejoin="round"/>
<path d="M774.2,236.7 C775.4,237.5 778.5,241.1 781.7,241.7 C784.9,242.2 790.1,241.1 793.3,240.0 C796.5,238.9 799.6,235.8 800.8,235.0" fill="none" stroke="#000" stroke-width="1.0" stroke-linejoin="round"/>
<path d="M773.3,233.3 L773.3,266.7 L776.7,271.7 L783.3,273.3 L790.8,270.8 L790.8,260.0" fill="none" stroke="#000" stroke-width="1.0" stroke-linejoin="round"/>
<path d="M793.3,240.0 L793.3,258.3" fill="none" stroke="#000" stroke-width="1.0" stroke-linejoin="round" stroke-dasharray="7 4"/>
<path d="M764.2,231.7 L764.2,245.8 L773.3,250.0" fill="none" stroke="#000" stroke-width="1.0" stroke-linejoin="round"/>
<path d="M759.2,248.3 L773.3,256.7" fill="none" stroke="#000" stroke-width="1.0" stroke-linejoin="round"/>
<path d="M751.7,248.3 L758.3,254.2 L773.3,261.7" fill="none" stroke="#000" stroke-width="1.0" stroke-linejoin="round"/>
<path d="M748.3,223.3 L755.0,211.7 L760.0,210.8 L769.2,209.2" fill="none" stroke="#000" stroke-width="1.0" stroke-linejoin="round" stroke-dasharray="7 4"/>
<path d="M800.8,233.3 L800.8,256.7" fill="none" stroke="#000" stroke-width="1.0" stroke-linejoin="round" stroke-dasharray="7 4"/>
<path d="M790.8,260.0 L800.0,256.7 L806.7,258.3" fill="none" stroke="#000" stroke-width="1.0" stroke-linejoin="round"/>
<path d="M791.7,260.8 L800.8,266.7" fill="none" stroke="#000" stroke-width="1.0" stroke-linejoin="round" stroke-dasharray="7 4"/>
<path d="M954.2,254.2 L975.0,260.8 L1023.3,230.3 L1030.0,272.5 L980.0,299.2 L960.8,292.5 L954.2,254.2" fill="none" stroke="#000" stroke-width="1.0" stroke-linejoin="round" stroke-dasharray="12 4 4 4"/>
<path d="M975.0,260.8 L980.0,299.2" fill="none" stroke="#000" stroke-width="1.0" stroke-linejoin="round" stroke-dasharray="7 4"/>
<path d="M954.2,254.2 L993.3,233.3" fill="none" stroke="#000" stroke-width="1.0" stroke-linejoin="round" stroke-dasharray="12 4 4 4"/>
<ellipse cx="991.7" cy="274.2" rx="13.6" ry="9.8" transform="rotate(100.0 991.7 274.2)" fill="none" stroke="#000" stroke-width="1.0"/>
<path d="M1000.8,254.2 L1004.7,253.3 L1004.7,258.7 L1000.8,259.5Z" fill="none" stroke="#000" stroke-width="1.0" stroke-linejoin="round"/>
<path d="M917.5,250.8 L941.7,240.0 L961.7,242.5 L964.2,246.7 L946.7,251.7 L918.3,256.7 L917.5,250.8" fill="none" stroke="#000" stroke-width="1.0" stroke-linejoin="round" stroke-dasharray="12 4 4 4"/>
<path d="M946.7,251.7 C946.7,253.6 946.8,260.8 946.7,263.3 C946.5,265.8 946.4,264.4 945.8,266.7 C945.3,268.9 945.1,273.3 943.3,276.7 C941.5,280.0 938.6,283.6 935.0,286.7 C931.4,289.7 923.9,293.6 921.7,295.0" fill="none" stroke="#000" stroke-width="1.0" stroke-linejoin="round" stroke-dasharray="7 4"/>
<path d="M929.2,198.3 C929.6,198.9 930.1,198.6 931.7,201.7 C933.2,204.7 936.4,211.1 938.3,216.7 C940.3,222.2 939.4,230.7 943.3,235.0 C947.2,239.3 958.6,241.2 961.7,242.5" fill="none" stroke="#000" stroke-width="1.0" stroke-linejoin="round" stroke-dasharray="7 4"/>
<path d="M970.0,244.2 L971.7,227.5 L993.3,234.2" fill="none" stroke="#000" stroke-width="1.0" stroke-linejoin="round" stroke-dasharray="7 4"/>
<ellipse cx="977.5" cy="218.3" rx="6.8" ry="3.9" transform="rotate(60.0 977.5 218.3)" fill="none" stroke="#000" stroke-width="1.0"/>
<path d="M990.0,221.7 L1004.2,213.3 L1015.0,228.3 L1001.7,237.0 L990.0,221.7" fill="none" stroke="#000" stroke-width="1.0" stroke-linejoin="round" stroke-dasharray="7 4"/>
<path d="M985.0,205.0 C986.7,203.2 991.4,196.5 995.0,194.2 C998.6,191.8 1004.7,191.4 1006.7,190.8" fill="none" stroke="#000" stroke-width="1.0" stroke-linejoin="round"/>
<path d="M988.3,206.7 L996.7,195.8 L1011.7,198.3 L1006.7,206.7 L996.7,216.7" fill="none" stroke="#000" stroke-width="1.0" stroke-linejoin="round"/>
<path d="M983.3,211.7 L987.5,210.8 L988.3,214.2 L984.2,215.3Z" fill="none" stroke="#000" stroke-width="1.0" stroke-linejoin="round"/>
<path d="M1005.0,195.0 L1015.0,193.3" fill="none" stroke="#000" stroke-width="1.5" stroke-linejoin="round"/>
<path d="M1040.0,150.0 C1039.9,152.5 1040.0,160.3 1039.2,165.0 C1038.3,169.7 1037.1,174.4 1035.0,178.3 C1032.9,182.2 1030.0,185.8 1026.7,188.3 C1023.3,190.8 1016.9,192.5 1015.0,193.3" fill="none" stroke="#000" stroke-width="1.0" stroke-linejoin="round"/>
<path d="M1031.7,150.0 C1031.7,152.8 1032.5,161.4 1031.7,166.7 C1030.8,171.9 1029.2,177.6 1026.7,181.7 C1024.2,185.7 1018.3,189.3 1016.7,190.8" fill="none" stroke="#000" stroke-width="1.0" stroke-linejoin="round"/>
<path d="M901.7,309.2 C902.5,308.2 904.6,304.7 906.7,303.3 C908.8,301.9 911.7,300.6 914.2,300.8 C916.7,301.1 919.9,302.9 921.7,305.0 C923.5,307.1 924.4,311.1 925.0,313.3 C925.6,315.6 925.3,317.5 925.3,318.3" fill="none" stroke="#000" stroke-width="1.0" stroke-linejoin="round"/>
<path d="M905.0,310.0 L905.0,345.0 L909.2,348.3 L915.8,349.7 L922.5,348.0 L922.5,336.7 L925.3,318.3" fill="none" stroke="#000" stroke-width="1.0" stroke-linejoin="round"/>
<path d="M902.5,308.3 L902.5,320.0" fill="none" stroke="#000" stroke-width="1.0" stroke-linejoin="round"/>
<path d="M905.0,312.5 C905.8,313.3 907.8,316.5 910.0,317.5 C912.2,318.5 915.8,318.6 918.3,318.3 C920.9,318.1 924.2,316.2 925.3,315.8" fill="none" stroke="#000" stroke-width="1.0" stroke-linejoin="round"/>
<path d="M920.8,296.7 C922.1,297.4 926.2,298.6 928.3,300.8 C930.4,303.1 932.5,304.7 933.3,310.0 C934.2,315.3 933.3,328.8 933.3,332.5" fill="none" stroke="#000" stroke-width="1.0" stroke-linejoin="round" stroke-dasharray="7 4"/>
<path d="M925.3,315.8 L933.3,312.5" fill="none" stroke="#000" stroke-width="1.0" stroke-linejoin="round"/>
<path d="M901.7,309.2 L885.0,315.0" fill="none" stroke="#000" stroke-width="1.0" stroke-linejoin="round"/>
<path d="M923.3,337.5 L996.7,379.2" fill="none" stroke="#000" stroke-width="1.0" stroke-linejoin="round" stroke-dasharray="12 4 4 4"/>
<path d="M933.3,333.0 L1003.3,370.8" fill="none" stroke="#000" stroke-width="1.0" stroke-linejoin="round" stroke-dasharray="12 4 4 4"/>
<path d="M924.2,349.2 L996.7,391.7" fill="none" stroke="#000" stroke-width="1.0" stroke-linejoin="round" stroke-dasharray="12 4 4 4"/>
<ellipse cx="1005.8" cy="383.3" rx="11.3" ry="6.5" transform="rotate(60.0 1005.8 383.3)" fill="none" stroke="#000" stroke-width="1.0"/>
<path d="M1010.5,392.9 L1011.0,392.9 L1011.5,392.8 L1011.9,392.7 L1012.3,392.5 L1012.7,392.3 L1013.1,392.1 L1013.5,391.8 L1013.8,391.4 L1014.1,391.1 L1014.3,390.6 L1014.6,390.2 L1014.7,389.7 L1014.9,389.1 L1015.0,388.6 L1015.1,388.0 L1015.1,387.3 L1015.1,386.7 L1015.0,386.0 L1014.9,385.3 L1014.8,384.6 L1014.7,383.9 L1014.5,383.2 L1014.2,382.5 L1013.9,381.8 L1013.6,381.0 L1013.3,380.3 L1012.9,379.6 L1012.5,379.0 L1012.1,378.3 L1011.7,377.6 L1011.2,377.0 L1010.7,376.4 L1010.2,375.9 L1009.7,375.3 L1009.2,374.8 L1008.6,374.4 L1008.1,374.0 L1007.5,373.6 L1007.0,373.2 L1006.4,373.0 L1005.8,372.7 L1005.3,372.5 L1004.8,372.4 L1004.2,372.3 L1003.7,372.2 L1003.2,372.2 L1002.7,372.3 L1002.3,372.4 L1001.9,372.6 L1001.4,372.8 L1001.1,373.0 L1000.7,373.3 L1000.4,373.7 L1000.1,374.0 L999.9,374.5" fill="none" stroke="#000" stroke-width="1.0"/>
<ellipse cx="1005.8" cy="383.3" rx="7.2" ry="4.2" transform="rotate(60.0 1005.8 383.3)" fill="none" stroke="#000" stroke-width="1.0"/>
<path d="M1000.0,394.2 L1010.0,398.3 L1021.7,399.7 L1035.0,398.0 L1046.7,395.8 L1053.3,394.2 L1053.3,380.0 L1050.0,379.2" fill="none" stroke="#000" stroke-width="1.0" stroke-linejoin="round"/>
<path d="M1013.3,387.5 L1018.3,385.8 L1033.3,385.0 L1053.3,379.7" fill="none" stroke="#000" stroke-width="1.0" stroke-linejoin="round"/>
<path d="M1018.3,385.8 L1030.0,380.0" fill="none" stroke="#000" stroke-width="1.0" stroke-linejoin="round" stroke-dasharray="7 4"/>
<path d="M1035.0,385.8 L1035.0,397.5" fill="none" stroke="#000" stroke-width="1.0" stroke-linejoin="round" stroke-dasharray="7 4"/>
<path d="M1050.0,381.7 L1050.0,395.0" fill="none" stroke="#000" stroke-width="1.0" stroke-linejoin="round" stroke-dasharray="7 4"/>
<path d="M1003.3,370.8 L1013.3,366.7 L1021.7,362.5" fill="none" stroke="#000" stroke-width="1.0" stroke-linejoin="round" stroke-dasharray="7 4"/>
<path d="M1021.7,362.5 C1022.2,361.5 1023.6,358.1 1025.0,356.7 C1026.4,355.3 1028.1,353.9 1030.0,354.2 C1031.9,354.4 1034.7,356.2 1036.7,358.3 C1038.6,360.4 1040.4,363.8 1041.7,366.7 C1042.9,369.6 1043.8,374.3 1044.2,375.8" fill="none" stroke="#000" stroke-width="1.0" stroke-linejoin="round"/>
<path d="M1023.3,360.0 C1024.4,361.1 1028.2,363.6 1030.0,366.7 C1031.8,369.7 1033.5,376.4 1034.2,378.3" fill="none" stroke="#000" stroke-width="1.0" stroke-linejoin="round"/>
<path d="M1025.0,359.2 C1026.2,360.4 1030.2,363.5 1032.0,366.7 C1033.8,369.9 1035.2,376.4 1035.8,378.3" fill="none" stroke="#000" stroke-width="1.0" stroke-linejoin="round"/>
<path d="M1034.2,379.2 L1044.2,375.8 L1050.0,379.2" fill="none" stroke="#000" stroke-width="1.0" stroke-linejoin="round"/>
<path d="M976.7,310.0 C975.3,310.8 970.6,312.5 968.3,315.0 C966.1,317.5 964.3,321.4 963.3,325.0 C962.4,328.6 961.9,332.8 962.5,336.7 C963.1,340.6 965.8,344.4 966.7,348.3 C967.5,352.2 966.1,357.4 967.5,360.0 C968.9,362.6 972.1,363.8 975.0,364.2 C977.9,364.6 983.1,363.8 985.0,362.5 C986.9,361.2 986.4,357.6 986.7,356.7" fill="none" stroke="#000" stroke-width="1.0" stroke-linejoin="round"/>
<path d="M980.0,310.8 C978.8,312.1 974.3,315.1 972.5,318.3 C970.7,321.5 969.4,326.1 969.2,330.0 C968.9,333.9 969.6,338.1 970.8,341.7 C972.1,345.3 974.6,349.4 976.7,351.7 C978.8,353.9 982.2,354.4 983.3,355.0" fill="none" stroke="#000" stroke-width="1.0" stroke-linejoin="round"/>
<path d="M975.0,310.0 L981.7,309.7" fill="none" stroke="#000" stroke-width="1.6" stroke-linejoin="round"/>
<path d="M988.3,312.5 L996.7,316.7 L1006.7,313.3 L1020.0,305.8" fill="none" stroke="#000" stroke-width="1.0" stroke-linejoin="round" stroke-dasharray="7 4"/>
<path d="M1020.0,305.8 L1023.3,323.3 L1026.7,343.3" fill="none" stroke="#000" stroke-width="1.0" stroke-linejoin="round" stroke-dasharray="7 4"/>
<path d="M1026.7,343.3 C1025.8,344.2 1024.4,346.7 1021.7,348.3 C1018.9,350.0 1012.2,351.9 1010.0,353.3 C1007.8,354.7 1010.6,355.8 1008.3,356.7 C1006.1,357.5 1000.0,358.6 996.7,358.3 C993.3,358.1 990.0,355.3 988.3,355.0 C986.7,354.7 986.9,356.4 986.7,356.7" fill="none" stroke="#000" stroke-width="1.0" stroke-linejoin="round"/>
<path d="M1000.0,315.0 C998.9,316.4 995.3,319.7 993.3,323.3 C991.4,326.9 988.9,332.5 988.3,336.7 C987.8,340.8 988.6,345.0 990.0,348.3 C991.4,351.7 995.6,355.3 996.7,356.7" fill="none" stroke="#000" stroke-width="1.0" stroke-linejoin="round"/>
<ellipse cx="1005.8" cy="337.5" rx="14.0" ry="9.6" transform="rotate(100.0 1005.8 337.5)" fill="none" stroke="#000" stroke-width="1.0"/>
<path d="M1003.3,326.7 C1002.6,328.3 999.7,333.6 999.2,336.7 C998.6,339.7 999.9,343.6 1000.0,345.0" fill="none" stroke="#000" stroke-width="1.0" stroke-linejoin="round"/>
<ellipse cx="953.3" cy="327.5" rx="8.0" ry="4.6" transform="rotate(60.0 953.3 327.5)" fill="none" stroke="#000" stroke-width="1.0"/>
<path d="M988.3,309.2 L996.7,311.7 L1018.3,305.8 L1011.7,301.7" fill="none" stroke="#000" stroke-width="1.0" stroke-linejoin="round" stroke-dasharray="7 4"/>
<path d="M990.8,295.0 L995.8,294.2 L996.7,298.3 L992.0,299.7Z" fill="none" stroke="#000" stroke-width="1.0" stroke-linejoin="round"/>
<path d="M997.5,304.2 L1001.7,303.3 L1002.5,307.0 L998.7,308.0Z" fill="none" stroke="#000" stroke-width="1.0" stroke-linejoin="round"/>
<path d="M980.0,300.0 L1006.7,286.7" fill="none" stroke="#000" stroke-width="1.0" stroke-linejoin="round" stroke-dasharray="7 4"/>
<path d="M986.7,309.2 L1008.3,295.0 L1013.3,303.3" fill="none" stroke="#000" stroke-width="1.0" stroke-linejoin="round" stroke-dasharray="7 4"/>
<path d="M990.0,312.5 L1006.7,305.0 L1020.0,306.7 L1023.3,328.8" fill="none" stroke="#000" stroke-width="1.0" stroke-linejoin="round" stroke-dasharray="7 4"/>
<line x1="712.5" y1="322.5" x2="855.0" y2="241.0" stroke="#000" stroke-width="1.0"/>
<line x1="248.0" y1="560.0" x2="388.5" y2="479.5" stroke="#000" stroke-width="0.9"/>
<line x1="246.0" y1="620.5" x2="412.5" y2="526.0" stroke="#000" stroke-width="0.9"/>
<ellipse cx="644.7" cy="361.2" rx="138.5" ry="79.9" transform="rotate(60.0 644.7 361.2)" fill="#fff" stroke="#000" stroke-width="1.7"/>
<path d="M699.5,331.8 L696.2,326.2 L709.6,318.4 L712.9,324.1Z" fill="#fff" stroke="#000" stroke-width="1.95" stroke-linejoin="round"/>
<path d="M696.4,334.0 L699.5,331.8 L696.2,326.2 L692.8,327.9" fill="#fff" stroke="#000" stroke-width="1.60" stroke-linejoin="round"/>
<path d="M707.7,327.1 L704.4,321.4" fill="none" stroke="#000" stroke-width="1.4"/>
<path d="M703.2,338.6 L700.1,332.9 L713.5,325.1 L716.6,330.9Z" fill="#fff" stroke="#000" stroke-width="1.95" stroke-linejoin="round"/>
<path d="M699.9,340.5 L703.2,338.6 L700.1,332.9 L696.5,334.2" fill="#fff" stroke="#000" stroke-width="1.60" stroke-linejoin="round"/>
<path d="M711.4,333.9 L708.3,328.1" fill="none" stroke="#000" stroke-width="1.4"/>
<path d="M695.5,325.1 L692.1,319.6 L705.5,311.9 L709.0,317.4Z" fill="#fff" stroke="#000" stroke-width="1.95" stroke-linejoin="round"/>
<path d="M692.7,327.7 L695.5,325.1 L692.1,319.6 L688.9,321.6" fill="#fff" stroke="#000" stroke-width="1.60" stroke-linejoin="round"/>
<path d="M703.8,320.4 L700.3,314.9" fill="none" stroke="#000" stroke-width="1.4"/>
<path d="M706.6,345.5 L703.7,339.7 L717.2,331.9 L720.1,337.7Z" fill="#fff" stroke="#000" stroke-width="1.95" stroke-linejoin="round"/>
<path d="M703.2,347.1 L706.6,345.5 L703.7,339.7 L700.0,340.7" fill="#fff" stroke="#000" stroke-width="1.60" stroke-linejoin="round"/>
<path d="M714.9,340.7 L712.0,334.9" fill="none" stroke="#000" stroke-width="1.4"/>
<path d="M691.4,318.6 L687.8,313.3 L701.2,305.5 L704.8,310.9Z" fill="#fff" stroke="#000" stroke-width="1.95" stroke-linejoin="round"/>
<path d="M688.7,321.4 L691.4,318.6 L687.8,313.3 L684.8,315.5" fill="#fff" stroke="#000" stroke-width="1.60" stroke-linejoin="round"/>
<path d="M699.6,313.9 L696.0,308.5" fill="none" stroke="#000" stroke-width="1.4"/>
<path d="M709.9,352.5 L707.2,346.6 L720.6,338.9 L723.3,344.7Z" fill="#fff" stroke="#000" stroke-width="1.95" stroke-linejoin="round"/>
<path d="M706.3,353.7 L709.9,352.5 L707.2,346.6 L703.3,347.3" fill="#fff" stroke="#000" stroke-width="1.60" stroke-linejoin="round"/>
<path d="M718.1,347.7 L715.4,341.9" fill="none" stroke="#000" stroke-width="1.4"/>
<path d="M687.1,312.2 L683.3,307.0 L696.7,299.3 L700.5,304.5Z" fill="#fff" stroke="#000" stroke-width="1.95" stroke-linejoin="round"/>
<path d="M684.6,315.3 L687.1,312.2 L683.3,307.0 L680.5,309.6" fill="#fff" stroke="#000" stroke-width="1.60" stroke-linejoin="round"/>
<path d="M695.3,307.5 L691.5,302.3" fill="none" stroke="#000" stroke-width="1.4"/>
<path d="M712.9,359.5 L710.4,353.6 L723.8,345.8 L726.3,351.7Z" fill="#fff" stroke="#000" stroke-width="1.95" stroke-linejoin="round"/>
<path d="M709.1,360.4 L712.9,359.5 L710.4,353.6 L706.4,353.9" fill="#fff" stroke="#000" stroke-width="1.60" stroke-linejoin="round"/>
<path d="M721.1,354.7 L718.6,348.8" fill="none" stroke="#000" stroke-width="1.4"/>
<path d="M682.6,306.1 L678.7,301.0 L692.1,293.3 L696.0,298.3Z" fill="#fff" stroke="#000" stroke-width="1.95" stroke-linejoin="round"/>
<path d="M680.3,309.4 L682.6,306.1 L678.7,301.0 L676.1,303.9" fill="#fff" stroke="#000" stroke-width="1.60" stroke-linejoin="round"/>
<path d="M690.8,301.3 L686.9,296.3" fill="none" stroke="#000" stroke-width="1.4"/>
<path d="M715.6,366.5 L713.3,360.6 L726.7,352.9 L729.0,358.8Z" fill="#fff" stroke="#000" stroke-width="1.95" stroke-linejoin="round"/>
<path d="M711.7,367.1 L715.6,366.5 L713.3,360.6 L709.2,360.6" fill="#fff" stroke="#000" stroke-width="1.60" stroke-linejoin="round"/>
<path d="M723.8,361.8 L721.5,355.9" fill="none" stroke="#000" stroke-width="1.4"/>
<path d="M677.9,300.1 L673.8,295.2 L687.3,287.5 L691.3,292.3Z" fill="#fff" stroke="#000" stroke-width="1.95" stroke-linejoin="round"/>
<path d="M675.9,303.7 L677.9,300.1 L673.8,295.2 L671.5,298.4" fill="#fff" stroke="#000" stroke-width="1.60" stroke-linejoin="round"/>
<path d="M686.1,295.3 L682.1,290.5" fill="none" stroke="#000" stroke-width="1.4"/>
<path d="M718.0,373.6 L716.0,367.7 L729.4,359.9 L731.4,365.9Z" fill="#fff" stroke="#000" stroke-width="1.95" stroke-linejoin="round"/>
<path d="M714.0,373.9 L718.0,373.6 L716.0,367.7 L711.8,367.4" fill="#fff" stroke="#000" stroke-width="1.60" stroke-linejoin="round"/>
<path d="M726.3,368.9 L724.2,362.9" fill="none" stroke="#000" stroke-width="1.4"/>
<path d="M673.1,294.3 L668.9,289.6 L682.3,281.9 L686.5,286.6Z" fill="#fff" stroke="#000" stroke-width="1.95" stroke-linejoin="round"/>
<path d="M671.3,298.2 L673.1,294.3 L668.9,289.6 L666.8,293.1" fill="#fff" stroke="#000" stroke-width="1.60" stroke-linejoin="round"/>
<path d="M681.3,289.6 L677.1,284.9" fill="none" stroke="#000" stroke-width="1.4"/>
<path d="M720.2,380.7 L718.4,374.7 L731.8,367.0 L733.6,372.9Z" fill="#fff" stroke="#000" stroke-width="1.95" stroke-linejoin="round"/>
<path d="M716.0,380.6 L720.2,380.7 L718.4,374.7 L714.1,374.1" fill="#fff" stroke="#000" stroke-width="1.60" stroke-linejoin="round"/>
<path d="M728.4,375.9 L726.6,370.0" fill="none" stroke="#000" stroke-width="1.4"/>
<path d="M668.1,288.8 L663.8,284.3 L677.3,276.6 L681.5,281.0Z" fill="#fff" stroke="#000" stroke-width="1.95" stroke-linejoin="round"/>
<path d="M666.6,292.9 L668.1,288.8 L663.8,284.3 L661.9,288.1" fill="#fff" stroke="#000" stroke-width="1.60" stroke-linejoin="round"/>
<path d="M676.3,284.0 L672.1,279.6" fill="none" stroke="#000" stroke-width="1.4"/>
<path d="M722.1,387.7 L720.5,381.8 L733.9,374.0 L735.5,379.9Z" fill="#fff" stroke="#000" stroke-width="1.95" stroke-linejoin="round"/>
<path d="M717.8,387.3 L722.1,387.7 L720.5,381.8 L716.1,380.8" fill="#fff" stroke="#000" stroke-width="1.60" stroke-linejoin="round"/>
<path d="M730.3,382.9 L728.7,377.0" fill="none" stroke="#000" stroke-width="1.4"/>
<path d="M663.0,283.5 L658.7,279.3 L672.1,271.5 L676.4,275.8Z" fill="#fff" stroke="#000" stroke-width="1.95" stroke-linejoin="round"/>
<path d="M661.7,287.9 L663.0,283.5 L658.7,279.3 L657.0,283.3" fill="#fff" stroke="#000" stroke-width="1.60" stroke-linejoin="round"/>
<path d="M671.2,278.8 L666.9,274.5" fill="none" stroke="#000" stroke-width="1.4"/>
<path d="M723.7,394.6 L722.3,388.8 L735.8,381.0 L737.1,386.9Z" fill="#fff" stroke="#000" stroke-width="1.95" stroke-linejoin="round"/>
<path d="M719.3,393.9 L723.7,394.6 L722.3,388.8 L717.9,387.5" fill="#fff" stroke="#000" stroke-width="1.60" stroke-linejoin="round"/>
<path d="M731.9,389.9 L730.6,384.0" fill="none" stroke="#000" stroke-width="1.4"/>
<path d="M657.8,278.5 L653.4,274.5 L666.8,266.8 L671.2,270.8Z" fill="#fff" stroke="#000" stroke-width="1.95" stroke-linejoin="round"/>
<path d="M656.8,283.1 L657.8,278.5 L653.4,274.5 L652.0,278.8" fill="#fff" stroke="#000" stroke-width="1.60" stroke-linejoin="round"/>
<path d="M666.1,273.8 L661.6,269.8" fill="none" stroke="#000" stroke-width="1.4"/>
<path d="M725.0,401.5 L723.9,395.8 L737.3,388.0 L738.4,393.8Z" fill="#fff" stroke="#000" stroke-width="1.95" stroke-linejoin="round"/>
<path d="M720.5,400.5 L725.0,401.5 L723.9,395.8 L719.4,394.1" fill="#fff" stroke="#000" stroke-width="1.60" stroke-linejoin="round"/>
<path d="M733.2,396.8 L732.1,391.0" fill="none" stroke="#000" stroke-width="1.4"/>
<path d="M652.5,273.8 L648.1,270.1 L661.5,262.3 L666.0,266.0Z" fill="#fff" stroke="#000" stroke-width="1.95" stroke-linejoin="round"/>
<path d="M651.8,278.6 L652.5,273.8 L648.1,270.1 L646.9,274.5" fill="#fff" stroke="#000" stroke-width="1.60" stroke-linejoin="round"/>
<path d="M660.8,269.0 L656.3,265.3" fill="none" stroke="#000" stroke-width="1.4"/>
<path d="M726.0,408.3 L725.1,402.6 L738.6,394.9 L739.4,400.6Z" fill="#fff" stroke="#000" stroke-width="1.95" stroke-linejoin="round"/>
<path d="M721.5,406.9 L726.0,408.3 L725.1,402.6 L720.6,400.7" fill="#fff" stroke="#000" stroke-width="1.60" stroke-linejoin="round"/>
<path d="M734.2,403.6 L733.4,397.9" fill="none" stroke="#000" stroke-width="1.4"/>
<path d="M647.2,269.4 L642.7,265.9 L656.1,258.2 L660.6,261.6Z" fill="#fff" stroke="#000" stroke-width="1.95" stroke-linejoin="round"/>
<path d="M646.7,274.4 L647.2,269.4 L642.7,265.9 L641.7,270.6" fill="#fff" stroke="#000" stroke-width="1.60" stroke-linejoin="round"/>
<path d="M655.4,264.6 L650.9,261.2" fill="none" stroke="#000" stroke-width="1.4"/>
<path d="M726.7,415.0 L726.1,409.4 L739.5,401.6 L740.1,407.2Z" fill="#fff" stroke="#000" stroke-width="1.95" stroke-linejoin="round"/>
<path d="M722.1,413.3 L726.7,415.0 L726.1,409.4 L721.5,407.1" fill="#fff" stroke="#000" stroke-width="1.60" stroke-linejoin="round"/>
<path d="M734.9,410.2 L734.3,404.6" fill="none" stroke="#000" stroke-width="1.4"/>
<path d="M641.8,265.3 L637.2,262.1 L650.6,254.4 L655.2,257.5Z" fill="#fff" stroke="#000" stroke-width="1.95" stroke-linejoin="round"/>
<path d="M641.5,270.5 L641.8,265.3 L637.2,262.1 L636.5,267.0" fill="#fff" stroke="#000" stroke-width="1.60" stroke-linejoin="round"/>
<path d="M650.0,260.5 L645.4,257.4" fill="none" stroke="#000" stroke-width="1.4"/>
<path d="M727.0,421.5 L726.7,416.0 L740.2,408.3 L740.5,413.8Z" fill="#fff" stroke="#000" stroke-width="1.95" stroke-linejoin="round"/>
<path d="M722.5,419.5 L727.0,421.5 L726.7,416.0 L722.1,413.5" fill="#fff" stroke="#000" stroke-width="1.60" stroke-linejoin="round"/>
<path d="M735.3,416.8 L735.0,411.3" fill="none" stroke="#000" stroke-width="1.4"/>
<path d="M636.3,261.5 L631.7,258.6 L645.2,250.9 L649.8,253.8Z" fill="#fff" stroke="#000" stroke-width="1.95" stroke-linejoin="round"/>
<path d="M636.3,266.9 L636.3,261.5 L631.7,258.6 L631.3,263.7" fill="#fff" stroke="#000" stroke-width="1.60" stroke-linejoin="round"/>
<path d="M644.6,256.8 L640.0,253.9" fill="none" stroke="#000" stroke-width="1.4"/>
<path d="M727.1,427.9 L727.1,422.5 L740.5,414.8 L740.5,420.1Z" fill="#fff" stroke="#000" stroke-width="1.95" stroke-linejoin="round"/>
<path d="M722.5,425.5 L727.1,427.9 L727.1,422.5 L722.5,419.7" fill="#fff" stroke="#000" stroke-width="1.60" stroke-linejoin="round"/>
<path d="M735.3,423.1 L735.3,417.8" fill="none" stroke="#000" stroke-width="1.4"/>
<path d="M630.9,258.1 L626.3,255.5 L639.7,247.8 L644.3,250.4Z" fill="#fff" stroke="#000" stroke-width="1.95" stroke-linejoin="round"/>
<path d="M631.1,263.6 L630.9,258.1 L626.3,255.5 L626.1,260.7" fill="#fff" stroke="#000" stroke-width="1.60" stroke-linejoin="round"/>
<path d="M639.1,253.4 L634.5,250.8" fill="none" stroke="#000" stroke-width="1.4"/>
<path d="M726.9,434.1 L727.1,428.9 L740.5,421.1 L740.3,426.3Z" fill="#fff" stroke="#000" stroke-width="1.94" stroke-linejoin="round"/>
<path d="M722.3,431.4 L726.9,434.1 L727.1,428.9 L722.5,425.7" fill="#fff" stroke="#000" stroke-width="1.60" stroke-linejoin="round"/>
<path d="M735.1,429.3 L735.3,424.1" fill="none" stroke="#000" stroke-width="1.4"/>
<path d="M625.4,255.0 L620.8,252.7 L634.2,245.0 L638.8,247.3Z" fill="#fff" stroke="#000" stroke-width="1.92" stroke-linejoin="round"/>
<path d="M625.9,260.6 L625.4,255.0 L620.8,252.7 L620.9,258.1" fill="#fff" stroke="#000" stroke-width="1.58" stroke-linejoin="round"/>
<path d="M633.6,250.3 L629.0,248.0" fill="none" stroke="#000" stroke-width="1.4"/>
<path d="M726.4,440.0 L726.8,435.0 L740.3,427.3 L739.8,432.3Z" fill="#fff" stroke="#000" stroke-width="1.87" stroke-linejoin="round"/>
<path d="M721.8,437.1 L726.4,440.0 L726.8,435.0 L722.3,431.6" fill="#fff" stroke="#000" stroke-width="1.55" stroke-linejoin="round"/>
<path d="M734.6,435.3 L735.1,430.3" fill="none" stroke="#000" stroke-width="1.4"/>
<path d="M619.9,252.3 L615.4,250.3 L628.8,242.6 L633.4,244.6Z" fill="#fff" stroke="#000" stroke-width="1.84" stroke-linejoin="round"/>
<path d="M620.7,258.0 L619.9,252.3 L615.4,250.3 L615.7,255.9" fill="#fff" stroke="#000" stroke-width="1.53" stroke-linejoin="round"/>
<path d="M628.2,247.6 L623.6,245.6" fill="none" stroke="#000" stroke-width="1.4"/>
<path d="M725.5,445.8 L726.2,441.0 L739.7,433.2 L738.9,438.1Z" fill="#fff" stroke="#000" stroke-width="1.78" stroke-linejoin="round"/>
<path d="M720.9,442.6 L725.5,445.8 L726.2,441.0 L721.7,437.3" fill="#fff" stroke="#000" stroke-width="1.49" stroke-linejoin="round"/>
<path d="M733.8,441.1 L734.5,436.2" fill="none" stroke="#000" stroke-width="1.4"/>
<path d="M614.5,250.0 L610.0,248.3 L623.4,240.6 L627.9,242.3Z" fill="#fff" stroke="#000" stroke-width="1.75" stroke-linejoin="round"/>
<path d="M615.5,255.8 L614.5,250.0 L610.0,248.3 L610.6,254.0" fill="#fff" stroke="#000" stroke-width="1.47" stroke-linejoin="round"/>
<path d="M622.7,245.3 L618.2,243.6" fill="none" stroke="#000" stroke-width="1.4"/>
<path d="M724.4,451.3 L725.4,446.7 L738.8,439.0 L737.8,443.6Z" fill="#fff" stroke="#000" stroke-width="1.70" stroke-linejoin="round"/>
<path d="M719.8,447.8 L724.4,451.3 L725.4,446.7 L720.9,442.8" fill="#fff" stroke="#000" stroke-width="1.44" stroke-linejoin="round"/>
<path d="M732.6,446.6 L733.6,442.0" fill="none" stroke="#000" stroke-width="1.4"/>
<path d="M609.1,248.0 L604.7,246.7 L618.1,238.9 L622.6,240.3Z" fill="#fff" stroke="#000" stroke-width="1.67" stroke-linejoin="round"/>
<path d="M610.4,253.9 L609.1,248.0 L604.7,246.7 L605.5,252.4" fill="#fff" stroke="#000" stroke-width="1.42" stroke-linejoin="round"/>
<path d="M617.4,243.3 L612.9,241.9" fill="none" stroke="#000" stroke-width="1.4"/>
<path d="M723.0,456.6 L724.2,452.2 L737.6,444.4 L736.4,448.8Z" fill="#fff" stroke="#000" stroke-width="1.61" stroke-linejoin="round"/>
<path d="M718.5,452.8 L723.0,456.6 L724.2,452.2 L719.8,448.0" fill="#fff" stroke="#000" stroke-width="1.38" stroke-linejoin="round"/>
<path d="M731.2,451.8 L732.4,447.4" fill="none" stroke="#000" stroke-width="1.4"/>
<path d="M603.8,246.5 L599.4,245.4 L612.8,237.7 L617.2,238.7Z" fill="#fff" stroke="#000" stroke-width="1.58" stroke-linejoin="round"/>
<path d="M605.3,252.4 L603.8,246.5 L599.4,245.4 L600.5,251.2" fill="#fff" stroke="#000" stroke-width="1.36" stroke-linejoin="round"/>
<path d="M612.0,241.7 L607.6,240.7" fill="none" stroke="#000" stroke-width="1.4"/>
<path d="M721.2,461.6 L722.7,457.4 L736.1,449.7 L734.6,453.8Z" fill="#fff" stroke="#000" stroke-width="1.52" stroke-linejoin="round"/>
<path d="M716.8,457.6 L721.2,461.6 L722.7,457.4 L718.4,453.0" fill="#fff" stroke="#000" stroke-width="1.32" stroke-linejoin="round"/>
<path d="M729.4,456.8 L730.9,452.7" fill="none" stroke="#000" stroke-width="1.4"/>
<path d="M598.6,245.3 L594.3,244.6 L607.7,236.8 L612.0,237.5Z" fill="#fff" stroke="#000" stroke-width="1.48" stroke-linejoin="round"/>
<path d="M600.4,251.2 L598.6,245.3 L594.3,244.6 L595.6,250.5" fill="#fff" stroke="#000" stroke-width="1.30" stroke-linejoin="round"/>
<path d="M606.8,240.5 L602.5,239.8" fill="none" stroke="#000" stroke-width="1.4"/>
<path d="M719.2,466.3 L720.9,462.4 L734.3,454.6 L732.6,458.5Z" fill="#fff" stroke="#000" stroke-width="1.42" stroke-linejoin="round"/>
<path d="M714.8,462.0 L719.2,466.3 L720.9,462.4 L716.7,457.7" fill="#fff" stroke="#000" stroke-width="1.26" stroke-linejoin="round"/>
<path d="M593.4,244.5 L589.2,244.1 L602.6,236.4 L606.9,236.7Z" fill="#fff" stroke="#000" stroke-width="1.39" stroke-linejoin="round"/>
<path d="M595.5,250.4 L593.4,244.5 L589.2,244.1 L590.8,250.0" fill="#fff" stroke="#000" stroke-width="1.24" stroke-linejoin="round"/>
<path d="M716.9,470.7 L718.9,467.0 L732.3,459.3 L730.3,462.9Z" fill="#fff" stroke="#000" stroke-width="1.33" stroke-linejoin="round"/>
<path d="M712.6,466.2 L716.9,470.7 L718.9,467.0 L714.8,462.2" fill="#fff" stroke="#000" stroke-width="1.20" stroke-linejoin="round"/>
<path d="M588.4,244.1 L584.3,244.1 L597.7,236.3 L601.8,236.3Z" fill="#fff" stroke="#000" stroke-width="1.29" stroke-linejoin="round"/>
<path d="M590.7,250.0 L588.4,244.1 L584.3,244.1 L586.1,250.0" fill="#fff" stroke="#000" stroke-width="1.18" stroke-linejoin="round"/>
<path d="M714.3,474.8 L716.5,471.4 L729.9,463.6 L727.7,467.0Z" fill="#fff" stroke="#000" stroke-width="1.23" stroke-linejoin="round"/>
<path d="M710.2,470.1 L714.3,474.8 L716.5,471.4 L712.6,466.3" fill="#fff" stroke="#000" stroke-width="1.14" stroke-linejoin="round"/>
<path d="M583.5,244.1 L579.5,244.4 L593.0,236.6 L597.0,236.3Z" fill="#fff" stroke="#000" stroke-width="1.19" stroke-linejoin="round"/>
<path d="M586.0,250.0 L583.5,244.1 L579.5,244.4 L581.6,250.3" fill="#fff" stroke="#000" stroke-width="1.12" stroke-linejoin="round"/>
<path d="M711.5,478.5 L713.9,475.4 L727.3,467.7 L724.9,470.8Z" fill="#fff" stroke="#000" stroke-width="1.13" stroke-linejoin="round"/>
<path d="M707.4,473.6 L711.5,478.5 L713.9,475.4 L710.1,470.2" fill="#fff" stroke="#000" stroke-width="1.07" stroke-linejoin="round"/>
<path d="M578.8,244.5 L574.9,245.1 L588.3,237.4 L592.2,236.7Z" fill="#fff" stroke="#000" stroke-width="1.09" stroke-linejoin="round"/>
<path d="M581.5,250.3 L578.8,244.5 L574.9,245.1 L577.2,251.0" fill="#fff" stroke="#000" stroke-width="1.05" stroke-linejoin="round"/>
<path d="M708.4,481.9 L711.0,479.1 L724.4,471.4 L721.8,474.2Z" fill="#fff" stroke="#000" stroke-width="1.03" stroke-linejoin="round"/>
<path d="M704.5,476.9 L708.4,481.9 L711.0,479.1 L707.3,473.8" fill="#fff" stroke="#000" stroke-width="1.01" stroke-linejoin="round"/>
<path d="M574.2,245.3 L570.5,246.2 L583.9,238.5 L587.6,237.5Z" fill="#fff" stroke="#000" stroke-width="0.99" stroke-linejoin="round"/>
<path d="M577.1,251.1 L574.2,245.3 L570.5,246.2 L573.0,252.1" fill="#fff" stroke="#000" stroke-width="0.99" stroke-linejoin="round"/>
<path d="M705.0,485.0 L707.9,482.5 L721.3,474.7 L718.5,477.3Z" fill="#fff" stroke="#000" stroke-width="0.93" stroke-linejoin="round"/>
<path d="M701.3,479.8 L705.0,485.0 L707.9,482.5 L704.4,477.0" fill="#fff" stroke="#000" stroke-width="0.94" stroke-linejoin="round"/>
<path d="M569.8,246.4 L566.2,247.7 L579.6,240.0 L583.2,238.7Z" fill="#fff" stroke="#000" stroke-width="0.89" stroke-linejoin="round"/>
<path d="M572.9,252.2 L569.8,246.4 L566.2,247.7 L568.9,253.6" fill="#fff" stroke="#000" stroke-width="0.92" stroke-linejoin="round"/>
<path d="M701.4,487.7 L704.5,485.5 L717.9,477.7 L714.9,480.0Z" fill="#fff" stroke="#000" stroke-width="0.82" stroke-linejoin="round"/>
<path d="M697.8,482.3 L701.4,487.7 L704.5,485.5 L701.2,479.9" fill="#fff" stroke="#000" stroke-width="0.88" stroke-linejoin="round"/>
<path d="M565.5,248.0 L562.2,249.6 L575.6,241.9 L579.0,240.3Z" fill="#fff" stroke="#000" stroke-width="0.79" stroke-linejoin="round"/>
<path d="M568.8,253.6 L565.5,248.0 L562.2,249.6 L565.1,255.4" fill="#fff" stroke="#000" stroke-width="0.85" stroke-linejoin="round"/>
<path d="M697.6,490.0 L700.9,488.1 L714.3,480.4 L711.1,482.3Z" fill="#fff" stroke="#000" stroke-width="0.72" stroke-linejoin="round"/>
<path d="M694.2,484.5 L697.6,490.0 L700.9,488.1 L697.7,482.4" fill="#fff" stroke="#000" stroke-width="0.81" stroke-linejoin="round"/>
<path d="M561.5,250.0 L558.3,251.9 L571.7,244.1 L574.9,242.2Z" fill="#fff" stroke="#000" stroke-width="0.72" stroke-linejoin="round"/>
<path d="M565.0,255.5 L561.5,250.0 L558.3,251.9 L561.4,257.6" fill="#fff" stroke="#000" stroke-width="0.81" stroke-linejoin="round"/>
<path d="M693.6,492.0 L697.0,490.4 L710.4,482.6 L707.0,484.2Z" fill="#fff" stroke="#000" stroke-width="0.79" stroke-linejoin="round"/>
<path d="M690.3,486.4 L693.6,492.0 L697.0,490.4 L694.1,484.6" fill="#fff" stroke="#000" stroke-width="0.85" stroke-linejoin="round"/>
<path d="M557.7,252.3 L554.7,254.5 L568.1,246.8 L571.1,244.5Z" fill="#fff" stroke="#000" stroke-width="0.82" stroke-linejoin="round"/>
<path d="M561.3,257.7 L557.7,252.3 L554.7,254.5 L558.0,260.1" fill="#fff" stroke="#000" stroke-width="0.88" stroke-linejoin="round"/>
<path d="M689.4,493.6 L692.9,492.3 L706.4,484.5 L702.8,485.8Z" fill="#fff" stroke="#000" stroke-width="0.89" stroke-linejoin="round"/>
<path d="M686.3,487.8 L689.4,493.6 L692.9,492.3 L690.2,486.4" fill="#fff" stroke="#000" stroke-width="0.92" stroke-linejoin="round"/>
<path d="M554.1,255.0 L551.3,257.5 L564.7,249.8 L567.5,247.2Z" fill="#fff" stroke="#000" stroke-width="0.93" stroke-linejoin="round"/>
<path d="M557.9,260.2 L554.1,255.0 L551.3,257.5 L554.8,263.0" fill="#fff" stroke="#000" stroke-width="0.94" stroke-linejoin="round"/>
<path d="M685.0,494.7 L688.7,493.8 L702.1,486.0 L698.4,487.0Z" fill="#fff" stroke="#000" stroke-width="0.99" stroke-linejoin="round"/>
<path d="M682.1,488.9 L685.0,494.7 L688.7,493.8 L686.2,487.9" fill="#fff" stroke="#000" stroke-width="0.99" stroke-linejoin="round"/>
<path d="M550.8,258.1 L548.2,260.9 L561.6,253.1 L564.2,250.3Z" fill="#fff" stroke="#000" stroke-width="1.03" stroke-linejoin="round"/>
<path d="M554.7,263.1 L550.8,258.1 L548.2,260.9 L551.8,266.2" fill="#fff" stroke="#000" stroke-width="1.01" stroke-linejoin="round"/>
<path d="M680.4,495.5 L684.2,494.9 L697.7,487.1 L693.8,487.8Z" fill="#fff" stroke="#000" stroke-width="1.09" stroke-linejoin="round"/>
<path d="M677.7,489.7 L680.4,495.5 L684.2,494.9 L681.9,489.0" fill="#fff" stroke="#000" stroke-width="1.05" stroke-linejoin="round"/>
<path d="M547.7,261.5 L545.3,264.6 L558.7,256.8 L561.1,253.7Z" fill="#fff" stroke="#000" stroke-width="1.13" stroke-linejoin="round"/>
<path d="M551.7,266.4 L547.7,261.5 L545.3,264.6 L549.1,269.8" fill="#fff" stroke="#000" stroke-width="1.07" stroke-linejoin="round"/>
<path d="M675.6,495.9 L679.6,495.6 L693.1,487.9 L689.1,488.2Z" fill="#fff" stroke="#000" stroke-width="1.19" stroke-linejoin="round"/>
<path d="M673.2,490.0 L675.6,495.9 L679.6,495.6 L677.6,489.7" fill="#fff" stroke="#000" stroke-width="1.12" stroke-linejoin="round"/>
<path d="M544.8,265.2 L542.7,268.6 L556.1,260.9 L558.3,257.5Z" fill="#fff" stroke="#000" stroke-width="1.23" stroke-linejoin="round"/>
<path d="M549.0,269.9 L544.8,265.2 L542.7,268.6 L546.6,273.7" fill="#fff" stroke="#000" stroke-width="1.14" stroke-linejoin="round"/>
<path d="M670.7,495.9 L674.9,495.9 L688.3,488.2 L684.2,488.2Z" fill="#fff" stroke="#000" stroke-width="1.29" stroke-linejoin="round"/>
<path d="M668.5,490.0 L670.7,495.9 L674.9,495.9 L673.0,490.0" fill="#fff" stroke="#000" stroke-width="1.18" stroke-linejoin="round"/>
<path d="M542.3,269.3 L540.3,273.0 L553.7,265.2 L555.7,261.6Z" fill="#fff" stroke="#000" stroke-width="1.33" stroke-linejoin="round"/>
<path d="M546.5,273.8 L542.3,269.3 L540.3,273.0 L544.4,277.8" fill="#fff" stroke="#000" stroke-width="1.20" stroke-linejoin="round"/>
<path d="M665.7,495.5 L669.9,495.9 L683.4,488.1 L679.1,487.8Z" fill="#fff" stroke="#000" stroke-width="1.39" stroke-linejoin="round"/>
<path d="M663.7,489.6 L665.7,495.5 L669.9,495.9 L668.3,490.0" fill="#fff" stroke="#000" stroke-width="1.24" stroke-linejoin="round"/>
<path d="M540.0,273.7 L538.2,277.6 L551.7,269.9 L553.4,266.0Z" fill="#fff" stroke="#000" stroke-width="1.42" stroke-linejoin="round"/>
<path d="M544.3,278.0 L540.0,273.7 L538.2,277.6 L542.4,282.3" fill="#fff" stroke="#000" stroke-width="1.26" stroke-linejoin="round"/>
<path d="M660.6,494.7 L664.9,495.4 L678.3,487.7 L674.0,487.0Z" fill="#fff" stroke="#000" stroke-width="1.48" stroke-linejoin="round"/>
<path d="M658.8,488.8 L660.6,494.7 L664.9,495.4 L663.5,489.5" fill="#fff" stroke="#000" stroke-width="1.30" stroke-linejoin="round"/>
<path d="M668.8,490.0 L673.1,490.7" fill="none" stroke="#000" stroke-width="1.4"/>
<path d="M537.9,278.4 L536.5,282.6 L549.9,274.8 L551.4,270.7Z" fill="#fff" stroke="#000" stroke-width="1.52" stroke-linejoin="round"/>
<path d="M542.4,282.4 L537.9,278.4 L536.5,282.6 L540.8,287.0" fill="#fff" stroke="#000" stroke-width="1.32" stroke-linejoin="round"/>
<path d="M546.2,273.7 L544.7,277.8" fill="none" stroke="#000" stroke-width="1.4"/>
<path d="M655.3,493.5 L659.7,494.6 L673.2,486.8 L668.8,485.8Z" fill="#fff" stroke="#000" stroke-width="1.58" stroke-linejoin="round"/>
<path d="M653.8,487.6 L655.3,493.5 L659.7,494.6 L658.6,488.8" fill="#fff" stroke="#000" stroke-width="1.36" stroke-linejoin="round"/>
<path d="M663.6,488.8 L668.0,489.8" fill="none" stroke="#000" stroke-width="1.4"/>
<path d="M536.2,283.4 L535.0,287.8 L548.4,280.1 L549.6,275.7Z" fill="#fff" stroke="#000" stroke-width="1.61" stroke-linejoin="round"/>
<path d="M540.7,287.2 L536.2,283.4 L535.0,287.8 L539.4,292.0" fill="#fff" stroke="#000" stroke-width="1.38" stroke-linejoin="round"/>
<path d="M544.4,278.7 L543.2,283.1" fill="none" stroke="#000" stroke-width="1.4"/>
<path d="M534.8,288.7 L533.8,293.3 L547.2,285.5 L548.2,280.9Z" fill="#fff" stroke="#000" stroke-width="1.70" stroke-linejoin="round"/>
<path d="M539.3,292.2 L534.8,288.7 L533.8,293.3 L538.2,297.2" fill="#fff" stroke="#000" stroke-width="1.44" stroke-linejoin="round"/>
<path d="M543.0,283.9 L542.0,288.5" fill="none" stroke="#000" stroke-width="1.4"/>
<path d="M533.6,294.2 L532.9,299.0 L546.3,291.3 L547.1,286.4Z" fill="#fff" stroke="#000" stroke-width="1.78" stroke-linejoin="round"/>
<path d="M538.2,297.4 L533.6,294.2 L532.9,299.0 L537.4,302.7" fill="#fff" stroke="#000" stroke-width="1.49" stroke-linejoin="round"/>
<path d="M541.9,289.4 L541.1,294.3" fill="none" stroke="#000" stroke-width="1.4"/>
<path d="M532.8,300.0 L532.3,305.0 L545.8,297.2 L546.2,292.2Z" fill="#fff" stroke="#000" stroke-width="1.87" stroke-linejoin="round"/>
<path d="M537.4,302.9 L532.8,300.0 L532.3,305.0 L536.9,308.4" fill="#fff" stroke="#000" stroke-width="1.55" stroke-linejoin="round"/>
<path d="M541.0,295.2 L540.6,300.2" fill="none" stroke="#000" stroke-width="1.4"/>
<ellipse cx="629.6" cy="370.0" rx="130.5" ry="75.3" transform="rotate(60.0 629.6 370.0)" fill="#fff" stroke="none"/>
<path d="M700.1,340.9 L697.5,342.0 L695.3,339.7 L694.2,336.0 L695.8,334.1" fill="none" stroke="#000" stroke-width="1.7" stroke-linejoin="round" stroke-linecap="round"/>
<path d="M689.0,321.8 L686.7,323.6 L684.4,321.7 L682.9,318.0 L684.1,315.6" fill="none" stroke="#000" stroke-width="1.7" stroke-linejoin="round" stroke-linecap="round"/>
<path d="M709.3,360.8 L706.2,361.2 L704.2,358.6 L703.6,354.9 L705.6,353.6" fill="none" stroke="#000" stroke-width="1.7" stroke-linejoin="round" stroke-linecap="round"/>
<path d="M676.2,304.1 L674.4,306.6 L672.1,305.1 L670.2,301.4 L670.9,298.6" fill="none" stroke="#000" stroke-width="1.7" stroke-linejoin="round" stroke-linecap="round"/>
<path d="M716.2,381.0 L712.9,380.6 L711.1,377.8 L711.0,374.3 L713.3,373.6" fill="none" stroke="#000" stroke-width="1.7" stroke-linejoin="round" stroke-linecap="round"/>
<path d="M662.1,288.2 L660.8,291.3 L658.5,290.3 L656.2,286.9 L656.5,283.6" fill="none" stroke="#000" stroke-width="1.7" stroke-linejoin="round" stroke-linecap="round"/>
<path d="M720.6,400.9 L717.1,399.7 L715.7,396.7 L716.0,393.6 L718.6,393.5" fill="none" stroke="#000" stroke-width="1.7" stroke-linejoin="round" stroke-linecap="round"/>
<path d="M647.0,274.6 L646.3,278.3 L644.1,277.7 L641.6,274.6 L641.3,271.1" fill="none" stroke="#000" stroke-width="1.7" stroke-linejoin="round" stroke-linecap="round"/>
<path d="M722.5,419.9 L718.9,418.0 L717.8,414.9 L718.6,412.2 L721.4,412.8" fill="none" stroke="#000" stroke-width="1.7" stroke-linejoin="round" stroke-linecap="round"/>
<path d="M631.5,263.8 L631.4,267.8 L629.3,267.8 L626.6,265.1 L625.8,261.4" fill="none" stroke="#000" stroke-width="1.7" stroke-linejoin="round" stroke-linecap="round"/>
<path d="M721.7,437.4 L718.2,434.9 L717.4,431.9 L718.7,429.6 L721.6,430.8" fill="none" stroke="#000" stroke-width="1.7" stroke-linejoin="round" stroke-linecap="round"/>
<path d="M615.9,255.9 L616.4,260.3 L614.5,260.7 L611.6,258.5 L610.4,254.7" fill="none" stroke="#000" stroke-width="1.7" stroke-linejoin="round" stroke-linecap="round"/>
<path d="M718.4,453.1 L715.0,450.0 L714.6,447.1 L716.3,445.3 L719.2,447.1" fill="none" stroke="#000" stroke-width="1.7" stroke-linejoin="round" stroke-linecap="round"/>
<path d="M600.7,251.3 L601.8,255.8 L600.1,256.8 L597.2,255.0 L595.6,251.3" fill="none" stroke="#000" stroke-width="1.7" stroke-linejoin="round" stroke-linecap="round"/>
<path d="M712.5,466.5 L709.3,462.8 L709.3,460.1 L711.4,458.9 L714.3,461.2" fill="none" stroke="#000" stroke-width="1.7" stroke-linejoin="round" stroke-linecap="round"/>
<path d="M586.3,250.0 L587.9,254.6 L586.6,256.0 L583.7,254.9 L581.7,251.3" fill="none" stroke="#000" stroke-width="1.7" stroke-linejoin="round" stroke-linecap="round"/>
<path d="M704.3,477.1 L701.4,473.0 L701.8,470.5 L704.2,470.0 L706.9,472.7" fill="none" stroke="#000" stroke-width="1.7" stroke-linejoin="round" stroke-linecap="round"/>
<path d="M573.1,252.1 L575.3,256.6 L574.3,258.5 L571.5,257.9 L569.2,254.6" fill="none" stroke="#000" stroke-width="1.7" stroke-linejoin="round" stroke-linecap="round"/>
<path d="M694.0,484.6 L691.5,480.3 L692.3,478.1 L694.9,478.3 L697.4,481.4" fill="none" stroke="#000" stroke-width="1.7" stroke-linejoin="round" stroke-linecap="round"/>
<path d="M690.1,486.5 L687.8,482.0 L688.7,480.0 L691.4,480.3 L693.8,483.6" fill="none" stroke="#000" stroke-width="1.7" stroke-linejoin="round" stroke-linecap="round"/>
<path d="M561.5,257.5 L564.1,261.8 L563.5,264.1 L560.9,264.2 L558.3,261.1" fill="none" stroke="#000" stroke-width="1.7" stroke-linejoin="round" stroke-linecap="round"/>
<path d="M677.4,489.7 L675.6,485.1 L676.8,483.5 L679.7,484.5 L681.8,488.0" fill="none" stroke="#000" stroke-width="1.7" stroke-linejoin="round" stroke-linecap="round"/>
<path d="M551.9,266.2 L554.8,270.1 L554.6,272.7 L552.3,273.4 L549.5,270.8" fill="none" stroke="#000" stroke-width="1.7" stroke-linejoin="round" stroke-linecap="round"/>
<path d="M663.4,489.5 L662.1,485.0 L663.7,483.8 L666.6,485.4 L668.3,489.1" fill="none" stroke="#000" stroke-width="1.7" stroke-linejoin="round" stroke-linecap="round"/>
<path d="M544.4,277.7 L547.7,281.2 L547.8,284.0 L545.9,285.3 L543.0,283.2" fill="none" stroke="#000" stroke-width="1.7" stroke-linejoin="round" stroke-linecap="round"/>
<path d="M539.4,291.9 L542.8,294.8 L543.4,297.8 L541.8,299.7 L538.9,298.1" fill="none" stroke="#000" stroke-width="1.7" stroke-linejoin="round" stroke-linecap="round"/>
<ellipse cx="629.6" cy="370.0" rx="115.5" ry="66.6" transform="rotate(60.0 629.6 370.0)" fill="#fff" stroke="#000" stroke-width="2.6"/>
<ellipse cx="625.6" cy="372.3" rx="114.0" ry="65.8" transform="rotate(60.0 625.6 372.3)" fill="#fff" stroke="#000" stroke-width="1.5"/>
<ellipse cx="622.1" cy="374.3" rx="115.0" ry="66.3" transform="rotate(60.0 622.1 374.3)" fill="#fff" stroke="#000" stroke-width="1.8"/>
<ellipse cx="619.0" cy="376.1" rx="115.8" ry="66.8" transform="rotate(60.0 619.0 376.1)" fill="#fff" stroke="#000" stroke-width="1.5"/>
<ellipse cx="616.4" cy="377.6" rx="116.5" ry="67.2" transform="rotate(60.0 616.4 377.6)" fill="#fff" stroke="#000" stroke-width="1.8"/>
<ellipse cx="613.6" cy="379.2" rx="117.2" ry="67.6" transform="rotate(60.0 613.6 379.2)" fill="#fff" stroke="#000" stroke-width="1.5"/>
<ellipse cx="610.4" cy="381.1" rx="118.0" ry="68.1" transform="rotate(60.0 610.4 381.1)" fill="#fff" stroke="#000" stroke-width="1.8"/>
<ellipse cx="606.7" cy="383.2" rx="119.0" ry="68.7" transform="rotate(60.0 606.7 383.2)" fill="#fff" stroke="#000" stroke-width="1.6"/>
<ellipse cx="601.0" cy="386.5" rx="123.0" ry="71.0" transform="rotate(60.0 601.0 386.5)" fill="#fff" stroke="#000" stroke-width="2.0"/>
<ellipse cx="600.3" cy="387.3" rx="62.0" ry="35.8" transform="rotate(60.0 600.3 387.3)" fill="none" stroke="#000" stroke-width="2.0"/>
<ellipse cx="593.0" cy="392.0" rx="48.0" ry="27.7" transform="rotate(60.0 593.0 392.0)" fill="#fff" stroke="#000" stroke-width="2.0"/>
<path d="M560.7,359.8 L560.0,362.1 L559.4,364.5 L558.9,367.1 L558.7,369.8 L558.6,372.6 L558.8,375.5 L559.1,378.5 L559.5,381.6 L560.2,384.8 L561.0,387.9 L562.0,391.1 L563.1,394.3 L564.4,397.5 L565.9,400.7 L567.5,403.8 L569.2,406.8 L571.0,409.8 L573.0,412.7 L575.0,415.4 L577.2,418.1 L579.4,420.6 L581.8,423.0 L584.1,425.2" fill="none" stroke="#000" stroke-width="2.4" stroke-linecap="round"/>
<ellipse cx="592.3" cy="392.3" rx="17.2" ry="9.9" transform="rotate(60.0 592.3 392.3)" fill="#fff" stroke="#000" stroke-width="2.0"/>
<path d="M591.3,376.9 L590.5,376.7 L589.8,376.6 L589.1,376.6 L588.4,376.6 L587.7,376.8 L587.1,376.9 L586.5,377.2 L585.9,377.5 L585.4,377.9 L584.9,378.4 L584.5,378.9 L584.1,379.4 L583.8,380.1 L583.5,380.8 L583.3,381.5 L583.1,382.3 L583.0,383.1 L582.9,384.0 L582.9,384.9 L582.9,385.8 L583.0,386.8 L583.2,387.8 L583.4,388.8 L583.6,389.8 L584.0,390.8 L584.3,391.8 L584.7,392.8 L585.2,393.8 L585.7,394.8 L586.2,395.8 L586.8,396.8 L587.4,397.7 L588.0,398.6 L588.7,399.5 L589.4,400.3 L590.2,401.1 L590.9,401.8 L591.7,402.5 L592.4,403.1 L593.2,403.6 L594.0,404.1 L594.8,404.6 L595.6,405.0 L596.4,405.3 L597.1,405.5" fill="none" stroke="#000" stroke-width="1.0"/>
<ellipse cx="613.0" cy="416.9" rx="9.0" ry="5.2" transform="rotate(60.0 613.0 416.9)" fill="#fff" stroke="#000" stroke-width="2.1"/>
<ellipse cx="613.0" cy="390.2" rx="9.0" ry="5.2" transform="rotate(60.0 613.0 390.2)" fill="#fff" stroke="#000" stroke-width="2.1"/>
<ellipse cx="593.0" cy="365.3" rx="9.0" ry="5.2" transform="rotate(60.0 593.0 365.3)" fill="#fff" stroke="#000" stroke-width="2.1"/>
<ellipse cx="573.0" cy="367.1" rx="9.0" ry="5.2" transform="rotate(60.0 573.0 367.1)" fill="#fff" stroke="#000" stroke-width="2.1"/>
<ellipse cx="573.0" cy="393.8" rx="9.0" ry="5.2" transform="rotate(60.0 573.0 393.8)" fill="#fff" stroke="#000" stroke-width="2.1"/>
<ellipse cx="593.0" cy="418.7" rx="9.0" ry="5.2" transform="rotate(60.0 593.0 418.7)" fill="#fff" stroke="#000" stroke-width="2.1"/>
<ellipse cx="566.9" cy="376.2" rx="3.8" ry="2.2" transform="rotate(60.0 566.9 376.2)" fill="#fff" stroke="#000" stroke-width="1.8"/>
<clipPath id="sl0"><ellipse cx="567.5" cy="303.8" rx="14.8" ry="10.3" transform="rotate(25.0 567.5 303.8)" /></clipPath>
<ellipse cx="567.5" cy="303.8" rx="14.8" ry="10.3" transform="rotate(25.0 567.5 303.8)" fill="#fff" stroke="none"/>
<g clip-path="url(#sl0)">
<ellipse cx="569.8" cy="302.5" rx="14.8" ry="10.3" transform="rotate(25.0 569.8 302.5)" fill="none" stroke="#000" stroke-width="1.2"/>
</g>
<ellipse cx="567.5" cy="303.8" rx="14.8" ry="10.3" transform="rotate(25.0 567.5 303.8)" fill="none" stroke="#000" stroke-width="2.0"/>
<clipPath id="sl1"><ellipse cx="633.8" cy="340.6" rx="21.5" ry="6.3" transform="rotate(54.0 633.8 340.6)" /></clipPath>
<ellipse cx="633.8" cy="340.6" rx="21.5" ry="6.3" transform="rotate(54.0 633.8 340.6)" fill="#fff" stroke="none"/>
<g clip-path="url(#sl1)">
<ellipse cx="636.1" cy="339.3" rx="21.5" ry="6.3" transform="rotate(54.0 636.1 339.3)" fill="none" stroke="#000" stroke-width="1.2"/>
</g>
<ellipse cx="633.8" cy="340.6" rx="21.5" ry="6.3" transform="rotate(54.0 633.8 340.6)" fill="none" stroke="#000" stroke-width="2.0"/>
<clipPath id="sl2"><ellipse cx="665.0" cy="426.3" rx="18.5" ry="8.8" transform="rotate(78.0 665.0 426.3)" /></clipPath>
<ellipse cx="665.0" cy="426.3" rx="18.5" ry="8.8" transform="rotate(78.0 665.0 426.3)" fill="#fff" stroke="none"/>
<g clip-path="url(#sl2)">
<ellipse cx="667.3" cy="425.0" rx="18.5" ry="8.8" transform="rotate(78.0 667.3 425.0)" fill="none" stroke="#000" stroke-width="1.2"/>
</g>
<ellipse cx="665.0" cy="426.3" rx="18.5" ry="8.8" transform="rotate(78.0 665.0 426.3)" fill="none" stroke="#000" stroke-width="2.0"/>
<clipPath id="sl3"><ellipse cx="633.8" cy="472.5" rx="14.8" ry="10.3" transform="rotate(25.0 633.8 472.5)" /></clipPath>
<ellipse cx="633.8" cy="472.5" rx="14.8" ry="10.3" transform="rotate(25.0 633.8 472.5)" fill="#fff" stroke="none"/>
<g clip-path="url(#sl3)">
<ellipse cx="636.1" cy="471.2" rx="14.8" ry="10.3" transform="rotate(25.0 636.1 471.2)" fill="none" stroke="#000" stroke-width="1.2"/>
</g>
<ellipse cx="633.8" cy="472.5" rx="14.8" ry="10.3" transform="rotate(25.0 633.8 472.5)" fill="none" stroke="#000" stroke-width="2.0"/>
<clipPath id="sl4"><ellipse cx="567.5" cy="435.5" rx="21.5" ry="6.3" transform="rotate(54.0 567.5 435.5)" /></clipPath>
<ellipse cx="567.5" cy="435.5" rx="21.5" ry="6.3" transform="rotate(54.0 567.5 435.5)" fill="#fff" stroke="none"/>
<g clip-path="url(#sl4)">
<ellipse cx="569.8" cy="434.2" rx="21.5" ry="6.3" transform="rotate(54.0 569.8 434.2)" fill="none" stroke="#000" stroke-width="1.2"/>
</g>
<ellipse cx="567.5" cy="435.5" rx="21.5" ry="6.3" transform="rotate(54.0 567.5 435.5)" fill="none" stroke="#000" stroke-width="2.0"/>
<clipPath id="sl5"><ellipse cx="535.6" cy="349.2" rx="18.0" ry="8.5" transform="rotate(78.0 535.6 349.2)" /></clipPath>
<ellipse cx="535.6" cy="349.2" rx="18.0" ry="8.5" transform="rotate(78.0 535.6 349.2)" fill="#fff" stroke="none"/>
<g clip-path="url(#sl5)">
<ellipse cx="537.9" cy="347.9" rx="18.0" ry="8.5" transform="rotate(78.0 537.9 347.9)" fill="none" stroke="#000" stroke-width="1.2"/>
</g>
<ellipse cx="535.6" cy="349.2" rx="18.0" ry="8.5" transform="rotate(78.0 535.6 349.2)" fill="none" stroke="#000" stroke-width="2.0"/>
<ellipse cx="424.5" cy="489.8" rx="138.3" ry="81.3" transform="rotate(60.0 424.5 489.8)" fill="#fff" stroke="#000" stroke-width="2.0"/>
<path d="M462.0,627.8 L493.7,609.5 L355.4,370.0 L323.8,388.2Z" fill="#fff" stroke="none"/>
<line x1="462.0" y1="627.8" x2="493.7" y2="609.5" stroke="#000" stroke-width="2.0"/>
<line x1="355.4" y1="370.0" x2="323.8" y2="388.2" stroke="#000" stroke-width="2.0"/>
<ellipse cx="392.9" cy="508.0" rx="138.3" ry="81.3" transform="rotate(60.0 392.9 508.0)" fill="#fff" stroke="#000" stroke-width="2.0"/>
<line x1="391.3" y1="397.5" x2="424.6" y2="375.8" stroke="#000" stroke-width="2.2"/>
<ellipse cx="375.9" cy="402.1" rx="8.2" ry="4.8" transform="rotate(60.0 375.9 402.1)" fill="#fff" stroke="#000" stroke-width="2.0"/>
<ellipse cx="393.2" cy="409.3" rx="8.2" ry="4.8" transform="rotate(60.0 393.2 409.3)" fill="#fff" stroke="#000" stroke-width="2.0"/>
<clipPath id="dclip"><ellipse cx="392.9" cy="508.0" rx="88.6" ry="52.1" transform="rotate(60.0 392.9 508.0)" /></clipPath>
<g clip-path="url(#dclip)">
<ellipse cx="408.1" cy="499.2" rx="88.6" ry="52.1" transform="rotate(60.0 408.1 499.2)" fill="#fff" stroke="#000" stroke-width="2.0"/>
<ellipse cx="410.0" cy="498.1" rx="78.5" ry="46.2" transform="rotate(60.0 410.0 498.1)" fill="#fff" stroke="#000" stroke-width="2.0"/>
<ellipse cx="410.0" cy="498.1" rx="74.2" ry="43.6" transform="rotate(60.0 410.0 498.1)" fill="#fff" stroke="#000" stroke-width="2.0"/>
</g>
<ellipse cx="416.2" cy="494.8" rx="17.0" ry="10.0" transform="rotate(60.0 416.2 494.8)" fill="#fff" stroke="#000" stroke-width="2.0"/>
<path d="M415.5,476.9 L414.8,477.2 L414.3,477.4 L413.7,477.8 L413.2,478.2 L412.7,478.7 L412.3,479.3 L411.9,479.9 L411.6,480.6 L411.4,481.3 L411.1,482.1 L411.0,482.9 L410.9,483.8 L410.8,484.7 L410.9,485.6 L410.9,486.6 L411.1,487.6 L411.2,488.6 L411.5,489.6 L411.8,490.6 L412.1,491.6 L412.5,492.7 L412.9,493.7 L413.4,494.7 L413.9,495.7 L414.5,496.7 L415.1,497.6 L415.8,498.5 L416.4,499.4 L417.1,500.2 L417.9,501.0 L418.6,501.8 L419.4,502.5 L420.2,503.1" fill="none" stroke="#000" stroke-width="1.2"/>
<ellipse cx="436.3" cy="519.7" rx="9.0" ry="5.3" transform="rotate(60.0 436.3 519.7)" fill="#fff" stroke="#000" stroke-width="2.0"/>
<ellipse cx="436.5" cy="492.8" rx="9.0" ry="5.3" transform="rotate(60.0 436.5 492.8)" fill="#fff" stroke="#000" stroke-width="2.0"/>
<ellipse cx="416.4" cy="468.0" rx="9.0" ry="5.3" transform="rotate(60.0 416.4 468.0)" fill="#fff" stroke="#000" stroke-width="2.0"/>
<ellipse cx="396.1" cy="469.9" rx="9.0" ry="5.3" transform="rotate(60.0 396.1 469.9)" fill="#fff" stroke="#000" stroke-width="2.0"/>
<ellipse cx="395.9" cy="496.8" rx="9.0" ry="5.3" transform="rotate(60.0 395.9 496.8)" fill="#fff" stroke="#000" stroke-width="2.0"/>
<ellipse cx="416.0" cy="521.6" rx="9.0" ry="5.3" transform="rotate(60.0 416.0 521.6)" fill="#fff" stroke="#000" stroke-width="2.0"/>
<ellipse cx="388.5" cy="479.7" rx="3.2" ry="1.9" transform="rotate(60.0 388.5 479.7)" fill="#fff" stroke="#000" stroke-width="2.0"/>
<ellipse cx="392.9" cy="508.0" rx="88.6" ry="52.1" transform="rotate(60.0 392.9 508.0)" fill="none" stroke="#000" stroke-width="2.0"/>
<ellipse cx="392.9" cy="508.0" rx="103.5" ry="60.9" transform="rotate(60.0 392.9 508.0)" fill="none" stroke="#000" stroke-width="2.0"/>
<ellipse cx="391.6" cy="508.8" rx="100.9" ry="59.3" transform="rotate(60.0 391.6 508.8)" fill="none" stroke="#000" stroke-width="1.5"/>
<line x1="248.0" y1="560.0" x2="388.0" y2="479.8" stroke="#000" stroke-width="0.9"/>
<line x1="246.0" y1="620.5" x2="410.5" y2="527.0" stroke="#000" stroke-width="0.9"/>
<ellipse cx="244.4" cy="562.6" rx="4.3" ry="2.5" transform="rotate(60.0 244.4 562.6)" fill="#000" stroke="#000" stroke-width="2.0"/>
<path d="M234.0,573.6 L246.5,566.4 L242.2,558.9 L229.7,566.2Z" fill="#fff" stroke="none"/>
<line x1="234.0" y1="573.6" x2="246.5" y2="566.4" stroke="#000" stroke-width="2.0"/>
<line x1="242.2" y1="558.9" x2="229.7" y2="566.2" stroke="#000" stroke-width="2.0"/>
<ellipse cx="231.8" cy="569.9" rx="4.3" ry="2.5" transform="rotate(60.0 231.8 569.9)" fill="#000" stroke="#000" stroke-width="2.0"/>
<ellipse cx="231.5" cy="570.0" rx="1.6" ry="0.9" transform="rotate(60.0 231.5 570.0)" fill="#fff" stroke="none"/>
<g transform="rotate(1.5 159.3 670.0)">
<ellipse cx="242.0" cy="622.2" rx="5.4" ry="3.1" transform="rotate(60.0 242.0 622.2)" fill="#000" stroke="#000" stroke-width="1.5"/>
<ellipse cx="240.3" cy="623.2" rx="7.4" ry="4.3" transform="rotate(60.0 240.3 623.2)" fill="#fff" stroke="#000" stroke-width="1.8"/>
<path d="M191.6,659.9 L244.0,629.7 L236.6,616.8 L184.2,647.1Z" fill="#fff" stroke="#000" stroke-width="1.8" stroke-linejoin="round"/>
<path d="M174.6,668.5 L191.9,658.5 L185.5,647.5 L168.2,657.5Z" fill="#fff" stroke="#000" stroke-width="1.8" stroke-linejoin="round"/>
<path d="M184.6,646.6 L183.6,647.1 L182.9,648.0 L182.5,649.2 L182.4,650.7 L182.7,652.3 L183.2,654.0 L184.0,655.7 L185.1,657.3 L186.3,658.6 L187.6,659.6 L188.9,660.3 L190.2,660.5 L191.3,660.4 L192.2,659.8" fill="none" stroke="#000" stroke-width="2.3"/>
<path d="M189.4,643.8 L188.4,644.4 L187.7,645.2 L187.3,646.5 L187.2,647.9 L187.4,649.6 L188.0,651.3 L188.8,653.0 L189.8,654.5 L191.1,655.8 L192.4,656.9 L193.7,657.5 L194.9,657.8 L196.1,657.6 L197.0,657.0" fill="none" stroke="#000" stroke-width="2.3"/>
<path d="M194.1,641.1 L193.2,641.6 L192.5,642.5 L192.1,643.7 L192.0,645.2 L192.2,646.8 L192.7,648.5 L193.6,650.2 L194.6,651.8 L195.8,653.1 L197.1,654.1 L198.4,654.8 L199.7,655.0 L200.8,654.9 L201.8,654.3" fill="none" stroke="#000" stroke-width="2.3"/>
<path d="M198.9,638.3 L197.9,638.9 L197.2,639.7 L196.8,641.0 L196.7,642.4 L197.0,644.1 L197.5,645.8 L198.3,647.5 L199.4,649.0 L200.6,650.3 L201.9,651.4 L203.2,652.0 L204.5,652.3 L205.6,652.1 L206.5,651.5" fill="none" stroke="#000" stroke-width="2.3"/>
<path d="M203.7,635.6 L202.7,636.1 L202.0,637.0 L201.6,638.2 L201.5,639.7 L201.7,641.3 L202.3,643.0 L203.1,644.7 L204.1,646.3 L205.3,647.6 L206.6,648.6 L208.0,649.3 L209.2,649.5 L210.4,649.4 L211.3,648.8" fill="none" stroke="#000" stroke-width="2.3"/>
<path d="M208.4,632.8 L207.5,633.4 L206.8,634.2 L206.4,635.5 L206.3,636.9 L206.5,638.6 L207.0,640.3 L207.8,642.0 L208.9,643.5 L210.1,644.8 L211.4,645.9 L212.7,646.5 L214.0,646.8 L215.1,646.6 L216.0,646.0" fill="none" stroke="#000" stroke-width="2.3"/>
<path d="M213.2,630.1 L212.2,630.6 L211.5,631.5 L211.1,632.7 L211.0,634.2 L211.3,635.8 L211.8,637.5 L212.6,639.2 L213.7,640.8 L214.9,642.1 L216.2,643.1 L217.5,643.8 L218.8,644.0 L219.9,643.9 L220.8,643.3" fill="none" stroke="#000" stroke-width="2.3"/>
<path d="M217.9,627.3 L217.0,627.9 L216.3,628.7 L215.9,630.0 L215.8,631.4 L216.0,633.1 L216.6,634.8 L217.4,636.5 L218.4,638.0 L219.6,639.3 L220.9,640.4 L222.3,641.0 L223.5,641.3 L224.6,641.1 L225.6,640.5" fill="none" stroke="#000" stroke-width="2.3"/>
<path d="M222.7,624.6 L221.8,625.1 L221.1,626.0 L220.6,627.2 L220.5,628.7 L220.8,630.3 L221.3,632.0 L222.1,633.7 L223.2,635.3 L224.4,636.6 L225.7,637.6 L227.0,638.3 L228.3,638.5 L229.4,638.4 L230.3,637.8" fill="none" stroke="#000" stroke-width="2.3"/>
<path d="M227.5,621.8 L226.5,622.4 L225.8,623.2 L225.4,624.5 L225.3,625.9 L225.5,627.6 L226.1,629.3 L226.9,631.0 L227.9,632.5 L229.2,633.8 L230.5,634.9 L231.8,635.5 L233.0,635.8 L234.2,635.6 L235.1,635.0" fill="none" stroke="#000" stroke-width="2.3"/>
<path d="M232.2,619.1 L231.3,619.6 L230.6,620.5 L230.2,621.7 L230.1,623.2 L230.3,624.8 L230.8,626.5 L231.7,628.2 L232.7,629.8 L233.9,631.1 L235.2,632.1 L236.6,632.8 L237.8,633.0 L238.9,632.9 L239.9,632.3" fill="none" stroke="#000" stroke-width="2.3"/>
<path d="M237.0,616.3 L236.0,616.9 L235.3,617.7 L234.9,619.0 L234.8,620.4 L235.1,622.1 L235.6,623.8 L236.4,625.5 L237.5,627.0 L238.7,628.3 L240.0,629.4 L241.3,630.0 L242.6,630.3 L243.7,630.1 L244.6,629.5" fill="none" stroke="#000" stroke-width="2.3"/>
<ellipse cx="169.3" cy="664.2" rx="15.0" ry="8.7" transform="rotate(60.0 169.3 664.2)" fill="#000" stroke="#000" stroke-width="1.6"/>
<ellipse cx="170.1" cy="663.8" rx="15.0" ry="8.7" transform="rotate(60.0 170.1 663.8)" fill="#000" stroke="#000" stroke-width="1.6"/>
<ellipse cx="171.0" cy="663.2" rx="15.0" ry="8.7" transform="rotate(60.0 171.0 663.2)" fill="#000" stroke="#000" stroke-width="1.6"/>
<ellipse cx="171.9" cy="662.8" rx="15.0" ry="8.7" transform="rotate(60.0 171.9 662.8)" fill="#000" stroke="#000" stroke-width="1.6"/>
<path d="M174.4,673.1 L172.4,662.5 L164.2,655.4 L158.1,658.9 L160.1,669.5 L168.3,676.6Z" fill="#fff" stroke="#000" stroke-width="1.5" stroke-linejoin="round"/>
<path d="M167.5,677.1 L165.4,666.5 L172.4,662.5 L174.4,673.1Z" fill="#fff" stroke="#000" stroke-width="1.8" stroke-linejoin="round"/>
<path d="M165.4,666.5 L157.3,659.4 L164.2,655.4 L172.4,662.5Z" fill="#fff" stroke="#000" stroke-width="1.8" stroke-linejoin="round"/>
<path d="M157.3,659.4 L151.1,662.9 L158.1,658.9 L164.2,655.4Z" fill="#fff" stroke="#000" stroke-width="1.8" stroke-linejoin="round"/>
<path d="M151.1,662.9 L153.2,673.5 L160.1,669.5 L158.1,658.9Z" fill="#fff" stroke="#000" stroke-width="1.8" stroke-linejoin="round"/>
<path d="M153.2,673.5 L161.3,680.6 L168.3,676.6 L160.1,669.5Z" fill="#fff" stroke="#000" stroke-width="1.8" stroke-linejoin="round"/>
<path d="M161.3,680.6 L167.5,677.1 L174.4,673.1 L168.3,676.6Z" fill="#fff" stroke="#000" stroke-width="1.8" stroke-linejoin="round"/>
<path d="M167.5,677.1 L165.4,666.5 L157.3,659.4 L151.1,662.9 L153.2,673.5 L161.3,680.6Z" fill="#fff" stroke="#000" stroke-width="2.0" stroke-linejoin="round"/>
</g>
<line x1="304.3" y1="289.8" x2="345.8" y2="373.8" stroke="#000" stroke-width="1.0"/>
<line x1="681.0" y1="493.8" x2="706.0" y2="565.0" stroke="#000" stroke-width="2.0"/>
<line x1="213.8" y1="503.0" x2="236.8" y2="560.0" stroke="#000" stroke-width="1.8"/>
<line x1="142.5" y1="584.5" x2="197.9" y2="638.8" stroke="#000" stroke-width="1.8"/>
<text transform="translate(810.5,401.5) scale(0.71,1)" font-size="25.5" textLength="180" lengthAdjust="spacing" stroke="#fff" stroke-width="0.35" style="font-family:'Liberation Sans','IPAGothic','Noto Sans CJK JP',sans-serif">フロントカバー</text>
<text x="804.5" y="427" font-size="27.3" textLength="139" lengthAdjust="spacingAndGlyphs" stroke="#fff" stroke-width="0.55">Front Caver</text>
<text x="1021" y="1042" font-size="18.2" textLength="72.5" lengthAdjust="spacingAndGlyphs" stroke="#fff" stroke-width="0.3">JY013598</text>
<rect x="1162" y="1073" width="1" height="1" fill="#000"/>
</svg></body></html>
